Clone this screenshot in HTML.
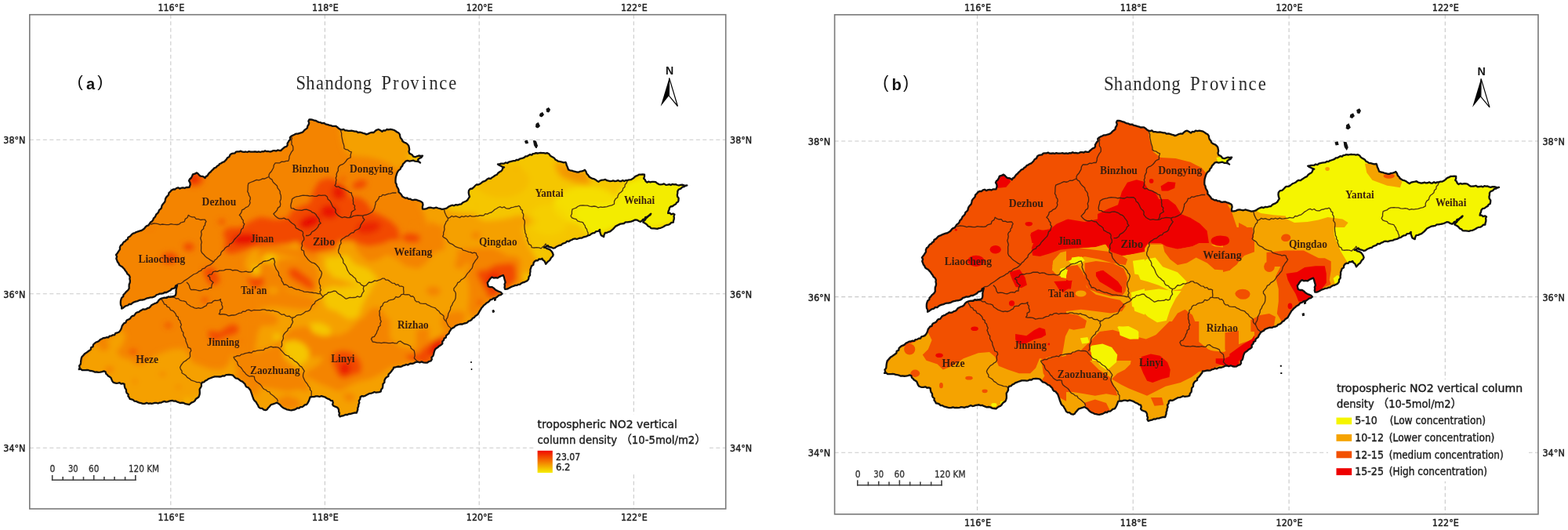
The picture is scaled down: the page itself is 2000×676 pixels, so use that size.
<!DOCTYPE html>
<html><head><meta charset="utf-8"><title>Shandong NO2</title>
<style>html,body{margin:0;padding:0;background:#fff;overflow:hidden} svg{display:block}</style>
</head><body>
<svg width="2000" height="676" viewBox="0 0 2000 676">
<defs>
  <path id="outline" d="M189.4,287.4 L190.7,285.4 L191.9,283.5 L194.0,282.2 L195.3,280.3 L195.9,278.3 L197.6,277.0 L198.5,275.2 L199.3,273.3 L201.0,272.0 L202.3,270.3 L202.9,268.1 L204.7,266.7 L206.0,265.0 L206.3,262.8 L207.3,260.9 L208.7,259.2 L210.2,257.5 L210.7,255.4 L211.1,253.3 L212.2,251.4 L213.7,249.9 L215.1,248.2 L215.4,246.0 L217.3,244.3 L219.0,242.4 L220.9,241.4 L223.3,241.5 L225.0,240.0 L227.1,239.3 L229.2,240.6 L231.4,239.7 L233.5,239.4 L235.6,240.0 L237.5,239.0 L239.5,239.0 L241.5,238.9 L242.7,235.3 L242.3,232.8 L241.0,230.6 L242.0,228.5 L243.8,227.0 L245.0,224.7 L246.0,222.3 L248.6,221.6 L251.0,220.4 L252.7,221.7 L254.1,223.3 L255.7,224.7 L257.9,224.8 L259.9,225.6 L261.6,227.0 L262.6,225.1 L264.6,224.1 L265.7,222.2 L267.0,220.5 L268.7,219.3 L270.0,217.6 L271.7,216.1 L273.3,214.4 L275.6,213.5 L277.0,211.7 L278.9,210.8 L280.1,209.0 L282.1,208.2 L283.8,207.0 L285.8,206.3 L287.3,204.9 L288.8,203.4 L290.1,201.2 L292.5,199.9 L293.5,197.5 L295.2,196.1 L297.2,195.7 L299.4,195.4 L300.9,193.7 L303.0,193.4 L305.1,193.4 L307.2,192.7 L309.2,193.7 L311.3,193.8 L313.4,193.5 L315.5,194.0 L317.5,193.1 L319.6,193.7 L321.7,193.6 L323.8,193.5 L325.8,193.3 L327.9,193.9 L330.0,193.4 L332.1,194.0 L334.1,193.2 L336.1,193.4 L338.1,192.3 L340.2,193.2 L342.2,193.0 L344.2,193.5 L346.3,193.1 L348.2,192.2 L350.3,192.2 L352.3,192.6 L354.3,191.4 L356.4,192.0 L358.4,192.0 L359.9,190.3 L361.6,188.9 L363.3,187.5 L365.5,186.8 L366.7,185.1 L366.6,182.8 L367.7,181.1 L368.7,179.3 L370.3,177.8 L369.9,175.4 L371.4,173.8 L373.3,172.7 L375.4,171.8 L377.3,170.7 L379.8,170.6 L382.2,169.8 L384.6,169.2 L386.8,167.9 L388.3,166.0 L390.2,164.6 L392.0,163.1 L392.3,160.9 L393.6,159.0 L394.2,156.9 L393.4,154.5 L394.4,152.5 L396.7,152.4 L398.9,152.9 L401.0,153.7 L403.0,154.0 L404.8,155.1 L406.7,155.9 L408.7,156.1 L410.5,157.2 L413.1,157.0 L415.3,158.3 L417.7,158.8 L420.0,159.6 L422.0,160.0 L424.0,160.9 L426.1,160.8 L428.2,160.8 L430.2,162.2 L432.0,163.8 L434.1,165.0 L436.1,165.5 L438.2,164.8 L440.1,166.4 L442.2,166.4 L444.2,166.8 L446.2,166.9 L448.3,166.7 L450.5,167.1 L452.6,167.6 L454.8,167.7 L456.7,169.0 L459.0,168.6 L461.1,169.2 L463.2,169.9 L465.3,170.4 L467.3,171.4 L469.6,170.6 L471.8,169.5 L474.2,168.8 L476.7,169.0 L478.4,167.2 L480.3,165.8 L482.7,165.0 L485.2,166.3 L487.4,167.9 L489.0,166.3 L491.6,166.5 L493.3,165.0 L495.7,165.4 L498.1,164.9 L500.5,165.4 L502.8,166.0 L504.7,167.2 L506.5,168.5 L508.5,169.6 L509.9,171.4 L510.3,173.8 L510.9,176.0 L512.6,177.8 L513.4,180.0 L515.4,181.5 L517.7,182.4 L519.7,183.9 L521.3,185.9 L521.8,188.3 L522.2,190.8 L521.5,193.3 L522.3,195.7 L524.3,196.6 L526.0,197.8 L527.2,199.7 L529.6,200.2 L531.9,199.3 L534.2,198.5 L536.6,199.0 L539.0,198.7 L537.5,200.9 L535.0,201.9 L533.1,203.6 L533.9,206.0 L536.0,207.5 L534.0,206.2 L531.7,205.8 L529.3,205.7 L527.2,204.6 L524.8,205.1 L522.4,205.6 L519.8,204.9 L517.4,205.6 L515.9,207.5 L514.1,209.2 L513.2,211.6 L511.5,213.4 L510.7,215.6 L508.7,217.1 L507.3,218.9 L506.3,221.0 L505.6,223.3 L504.9,225.7 L504.6,228.1 L504.5,230.6 L504.6,233.1 L505.7,234.9 L505.9,237.0 L506.8,238.9 L507.9,240.7 L508.6,242.7 L508.5,244.9 L510.4,246.6 L512.1,248.6 L513.4,250.8 L515.3,251.7 L517.2,252.7 L519.4,252.5 L521.1,253.8 L523.3,253.7 L525.1,254.9 L527.1,255.2 L529.2,254.7 L531.2,254.9 L533.1,255.7 L535.3,256.3 L537.3,257.3 L539.0,258.7 L539.5,261.3 L538.8,263.9 L539.0,266.5 L541.6,266.7 L544.0,266.1 L546.3,265.0 L548.8,264.6 L551.3,265.1 L553.7,265.5 L556.3,264.6 L558.7,265.5 L561.3,266.1 L563.8,266.8 L566.5,266.5 L568.7,265.9 L570.6,264.9 L572.4,263.5 L574.4,262.6 L576.7,261.7 L579.2,262.3 L581.4,261.1 L583.9,261.5 L586.2,260.6 L588.5,260.3 L590.1,258.5 L592.1,257.5 L594.1,256.7 L596.3,255.2 L597.6,253.0 L599.0,250.8 L598.1,248.2 L597.7,245.6 L598.0,242.9 L599.6,241.0 L602.3,240.5 L604.2,238.9 L605.9,237.0 L607.6,235.5 L610.1,235.5 L612.1,234.7 L613.9,233.3 L615.6,231.9 L617.7,231.1 L619.7,230.2 L621.4,228.6 L623.3,227.5 L625.9,227.8 L627.6,226.4 L629.5,225.2 L631.5,223.8 L633.8,222.8 L635.3,220.7 L637.3,219.3 L639.2,218.2 L640.5,216.7 L641.2,214.6 L643.0,213.4 L640.8,212.8 L638.9,211.7 L636.8,210.8 L635.0,209.5 L637.0,209.4 L639.0,208.7 L641.0,208.7 L643.0,208.6 L644.8,207.4 L647.2,208.0 L648.9,206.6 L651.0,206.1 L653.0,205.6 L655.0,205.2 L657.1,205.1 L658.9,203.8 L661.1,204.0 L662.9,202.7 L664.8,202.2 L666.8,201.6 L668.7,200.9 L670.3,199.4 L672.4,199.3 L674.1,198.2 L675.8,197.2 L678.2,197.7 L679.7,196.1 L681.7,195.8 L683.6,195.1 L685.6,195.5 L687.7,195.2 L689.7,194.8 L691.7,195.1 L693.7,195.2 L695.8,195.6 L697.8,195.1 L700.2,196.2 L701.7,198.3 L703.7,199.8 L705.6,200.7 L707.2,201.9 L708.4,203.7 L710.3,204.5 L712.0,205.7 L714.4,206.1 L716.7,206.7 L719.0,207.3 L721.5,206.9 L722.3,208.8 L722.7,210.8 L723.6,212.6 L724.3,214.5 L725.0,216.4 L727.1,217.3 L729.3,217.6 L731.4,218.3 L733.6,218.8 L735.7,219.5 L737.9,219.6 L739.9,218.7 L742.0,218.4 L744.0,217.9 L745.9,216.7 L747.5,219.0 L748.4,221.7 L750.0,223.2 L751.3,225.2 L753.1,226.5 L755.1,227.6 L757.4,228.1 L759.5,229.2 L761.4,230.7 L763.4,231.8 L765.4,230.3 L767.7,229.7 L770.1,229.3 L772.2,228.9 L774.1,230.2 L776.1,230.7 L778.1,231.2 L780.2,230.9 L782.2,230.3 L784.2,231.1 L786.2,230.9 L788.2,230.0 L790.2,231.1 L792.2,231.2 L794.2,229.9 L796.2,231.0 L798.2,230.0 L800.2,230.1 L802.3,229.3 L804.7,229.2 L806.7,228.1 L808.6,226.8 L810.5,224.9 L813.0,223.9 L815.3,222.6 L817.5,222.6 L819.8,222.3 L822.0,222.6 L822.0,225.2 L821.1,227.6 L822.7,229.1 L823.6,231.2 L825.3,232.6 L827.3,231.6 L829.5,232.3 L831.6,231.9 L833.7,231.8 L836.3,232.2 L838.3,233.8 L840.4,235.1 L842.6,235.3 L844.8,235.1 L847.0,234.4 L849.3,235.9 L851.5,235.6 L853.7,235.1 L855.7,236.0 L857.8,234.8 L859.8,235.3 L861.8,235.1 L863.8,236.0 L865.9,236.5 L868.0,235.8 L870.1,235.7 L872.1,236.2 L874.2,237.1 L876.3,236.5 L874.2,236.7 L872.6,238.2 L870.5,238.5 L868.3,240.6 L865.5,241.8 L864.3,243.9 L864.3,246.2 L863.8,248.5 L864.1,250.8 L865.6,252.8 L865.5,255.2 L865.0,257.3 L863.0,258.4 L862.1,260.2 L859.9,261.4 L857.9,263.0 L855.4,263.5 L853.9,265.3 L853.5,267.6 L852.5,269.6 L852.1,271.9 L854.3,271.7 L856.1,273.3 L858.5,272.5 L860.4,273.6 L859.5,275.5 L859.8,277.6 L859.7,279.6 L859.0,281.6 L858.8,283.6 L856.4,283.8 L854.7,285.6 L852.7,286.7 L850.4,287.0 L848.4,287.8 L846.6,289.0 L844.6,290.0 L842.6,290.8 L840.4,291.1 L838.4,291.8 L836.4,291.6 L834.3,291.4 L832.3,291.4 L830.3,291.1 L828.9,289.3 L826.7,288.5 L825.3,286.7 L823.6,285.3 L820.3,283.6 L821.3,281.7 L823.0,280.3 L824.0,278.4 L825.7,277.1 L826.9,275.3 L829.1,274.5 L830.3,272.7 L828.6,273.9 L827.3,275.6 L825.3,276.5 L823.2,277.2 L822.4,279.5 L820.0,279.9 L818.7,281.6 L817.0,282.8 L814.8,282.0 L812.7,280.6 L810.3,280.3 L807.0,281.9 L804.8,282.6 L802.5,283.0 L800.2,283.3 L797.8,283.4 L795.8,285.0 L793.5,285.3 L791.2,285.6 L789.2,286.6 L787.2,287.6 L785.2,288.6 L783.6,290.4 L782.0,292.1 L780.2,293.6 L778.4,295.1 L776.2,295.8 L774.2,296.8 L771.8,297.0 L770.6,299.4 L770.1,302.0 L766.8,300.3 L765.9,297.9 L765.1,295.4 L765.1,292.8 L763.2,294.8 L760.3,295.1 L758.4,297.0 L756.1,297.3 L754.1,298.4 L752.3,299.8 L750.1,300.3 L748.2,301.4 L746.2,302.0 L744.1,302.4 L742.2,303.5 L740.0,303.7 L737.9,304.2 L735.8,305.0 L733.4,304.4 L731.3,304.8 L729.3,306.0 L727.3,306.7 L725.5,308.0 L723.1,307.7 L721.5,309.5 L719.6,310.2 L717.5,310.8 L715.9,312.5 L713.7,312.9 L711.6,313.8 L709.6,314.7 L707.9,316.1 L705.7,316.7 L703.3,315.5 L700.6,315.0 L698.6,313.1 L696.4,314.6 L693.8,315.5 L696.0,315.9 L697.7,317.2 L699.8,317.7 L701.7,318.6 L703.3,320.2 L704.8,322.5 L705.7,325.0 L704.9,327.0 L703.2,328.5 L702.1,330.3 L701.0,332.1 L699.1,333.4 L697.6,335.1 L696.2,336.8 L695.3,334.8 L694.4,332.9 L692.5,331.6 L691.5,329.7 L689.7,330.7 L687.4,330.4 L686.0,332.4 L683.8,332.2 L682.0,333.3 L680.6,335.2 L680.3,337.8 L678.0,339.2 L677.3,341.5 L676.4,343.8 L676.5,346.2 L676.0,348.6 L676.1,351.0 L674.5,353.1 L674.2,356.0 L672.5,358.1 L670.6,359.0 L668.7,360.0 L666.6,360.4 L664.8,361.4 L663.1,362.8 L661.0,362.9 L659.1,363.9 L657.0,364.0 L655.1,364.9 L653.1,365.5 L651.2,366.4 L649.0,367.6 L646.7,368.7 L644.1,368.8 L643.5,366.7 L643.9,364.5 L643.5,362.4 L644.6,360.2 L644.1,358.1 L643.4,355.7 L642.8,353.3 L641.8,351.0 L639.3,352.0 L636.9,353.1 L634.7,354.6 L632.3,354.2 L629.8,354.6 L627.6,353.4 L625.8,354.9 L624.3,356.7 L623.2,358.7 L621.7,360.5 L622.2,362.9 L622.8,365.2 L625.1,366.2 L627.8,366.1 L630.0,367.6 L632.1,369.7 L634.7,371.1 L636.9,372.0 L639.0,372.9 L640.6,374.7 L638.8,376.2 L636.5,376.7 L634.7,378.2 L632.5,379.8 L629.8,380.3 L627.6,381.8 L625.4,382.3 L624.1,384.2 L622.4,385.5 L620.5,386.5 L618.9,388.1 L617.1,389.4 L615.7,391.2 L614.2,392.7 L613.2,394.6 L612.0,396.4 L611.0,398.3 L609.9,400.4 L608.3,401.9 L606.3,403.1 L605.0,404.9 L602.8,406.0 L601.5,407.8 L599.8,409.0 L597.7,409.6 L596.2,411.3 L594.3,412.2 L592.1,412.5 L589.8,413.5 L587.3,413.4 L584.9,414.0 L582.6,414.9 L580.7,415.8 L579.2,417.5 L577.3,418.4 L575.5,419.6 L574.4,421.4 L573.2,423.2 L572.5,425.3 L570.8,426.7 L569.1,428.1 L568.8,430.5 L566.6,431.6 L566.0,433.8 L564.2,435.5 L564.3,438.3 L562.5,440.0 L560.0,441.4 L558.6,442.9 L556.8,444.0 L555.2,445.3 L554.3,447.3 L553.6,449.5 L553.1,451.8 L552.4,454.0 L550.5,455.8 L550.8,458.4 L549.6,460.4 L547.2,461.0 L545.0,462.5 L542.5,462.7 L540.1,462.4 L537.8,461.4 L535.3,462.4 L533.0,461.5 L530.5,461.8 L528.3,463.1 L525.9,463.9 L523.8,463.7 L521.9,464.4 L520.1,465.5 L517.9,464.9 L516.1,465.9 L514.1,466.3 L512.3,467.4 L510.3,467.8 L508.2,467.5 L506.2,467.9 L504.2,468.5 L502.2,468.6 L501.5,470.7 L500.1,472.3 L498.9,474.1 L497.5,475.7 L495.6,477.3 L495.3,480.0 L492.9,481.2 L491.4,483.0 L490.4,485.2 L490.4,487.7 L488.5,489.8 L488.3,492.2 L488.0,494.7 L486.3,496.8 L485.7,499.4 L483.7,500.1 L481.7,500.3 L479.6,500.6 L477.5,500.0 L475.5,501.0 L473.6,501.7 L471.5,501.8 L469.6,502.7 L467.7,503.7 L465.8,504.8 L463.8,505.5 L461.4,505.2 L459.6,506.5 L459.4,509.0 L457.8,511.1 L458.3,513.7 L457.3,516.0 L457.2,518.2 L456.3,520.2 L456.3,522.5 L455.6,524.5 L454.9,526.6 L452.8,526.3 L450.8,526.8 L448.9,527.3 L447.0,528.0 L444.9,528.0 L443.1,529.0 L440.6,528.9 L438.3,530.1 L435.9,530.5 L433.6,531.4 L432.4,529.4 L433.0,527.0 L432.1,525.0 L432.1,522.8 L431.2,520.7 L429.6,519.3 L427.5,518.6 L425.5,517.8 L424.1,516.0 L424.8,513.6 L424.1,511.2 L422.0,510.8 L420.3,509.4 L418.3,508.6 L416.4,507.7 L414.7,506.5 L412.4,505.8 L410.0,505.1 L407.5,506.0 L405.2,505.3 L402.8,505.4 L400.5,506.2 L398.1,506.1 L395.7,506.5 L394.9,508.5 L394.3,510.5 L393.4,512.4 L392.4,514.3 L391.0,516.0 L388.8,516.4 L387.2,517.9 L385.5,519.2 L383.1,519.2 L381.5,520.7 L379.4,520.3 L377.6,521.6 L375.7,522.5 L373.7,522.8 L371.8,523.3 L369.7,523.1 L367.7,522.6 L365.7,522.3 L363.9,521.3 L362.0,520.6 L360.2,519.5 L358.5,517.9 L357.0,516.1 L355.1,514.8 L353.1,513.6 L350.8,514.5 L348.4,515.3 L346.0,516.0 L344.6,517.4 L343.3,519.0 L341.9,520.4 L340.8,522.2 L338.9,523.1 L336.4,522.6 L334.4,520.8 L331.8,520.7 L329.9,519.2 L329.0,516.9 L327.7,514.9 L326.6,512.8 L324.7,511.2 L323.5,509.4 L322.8,507.4 L322.0,505.4 L321.4,503.4 L320.7,501.4 L320.0,499.4 L319.3,497.4 L317.9,495.9 L316.7,494.3 L314.4,493.5 L313.2,491.9 L312.5,489.9 L310.8,488.2 L309.1,486.6 L306.8,485.7 L305.0,484.1 L303.0,482.8 L300.5,482.3 L298.8,480.6 L297.1,478.7 L294.7,478.1 L292.5,477.8 L290.4,478.0 L288.3,478.1 L286.3,479.5 L284.1,479.3 L282.2,480.3 L280.1,480.5 L278.0,480.3 L275.9,480.4 L273.8,480.3 L271.9,481.0 L269.9,481.7 L267.8,482.5 L265.7,483.3 L264.0,484.7 L261.9,485.6 L260.3,487.3 L258.0,487.6 L256.8,489.8 L256.9,492.5 L255.7,494.7 L254.6,496.5 L254.7,498.6 L254.8,500.7 L254.7,502.7 L254.1,504.6 L253.3,506.5 L251.5,507.7 L249.7,509.0 L248.6,511.1 L247.0,512.5 L244.8,513.3 L243.1,514.5 L241.5,516.0 L239.1,515.6 L236.6,515.2 L234.4,514.0 L232.0,513.6 L229.8,514.0 L227.9,513.2 L225.9,512.6 L224.0,511.5 L221.9,511.7 L219.9,510.9 L217.8,511.2 L215.8,511.6 L213.8,512.3 L211.8,512.6 L209.6,511.8 L207.6,512.6 L205.7,513.6 L203.6,513.6 L201.6,514.5 L199.5,513.9 L197.5,513.8 L195.5,514.4 L193.5,514.8 L191.4,514.4 L189.4,514.8 L187.1,513.9 L184.6,514.8 L182.2,514.8 L179.9,514.1 L177.6,513.6 L175.6,512.9 L173.7,511.8 L171.5,511.7 L169.8,510.0 L167.8,509.3 L165.7,508.9 L164.8,507.0 L163.4,505.3 L163.6,502.9 L161.7,501.4 L161.0,499.4 L160.9,496.9 L159.4,494.8 L158.8,492.4 L158.6,489.9 L156.6,489.2 L154.5,489.6 L152.6,488.2 L150.5,488.6 L148.4,488.8 L146.4,488.4 L144.4,487.6 L143.1,485.9 L142.3,483.9 L141.5,481.9 L139.7,480.5 L137.9,479.5 L136.7,477.8 L135.1,476.6 L134.6,474.3 L132.6,473.4 L130.3,474.2 L128.0,474.6 L125.6,474.8 L123.2,474.5 L120.8,474.6 L118.9,473.6 L117.0,473.2 L114.9,473.0 L113.0,472.2 L111.0,471.9 L108.9,472.2 L106.8,472.2 L104.7,472.1 L102.9,470.6 L100.7,471.0 L101.7,469.0 L101.1,466.6 L102.7,464.8 L103.0,462.7 L103.2,460.3 L103.6,457.9 L104.2,455.6 L105.6,454.0 L107.0,452.4 L108.4,450.9 L110.3,449.8 L112.0,448.5 L113.7,447.3 L115.7,445.9 L116.1,443.2 L118.6,442.1 L119.0,439.5 L120.8,437.9 L122.4,436.5 L124.6,435.9 L126.4,434.7 L127.9,433.1 L129.9,432.3 L131.7,431.1 L133.9,431.0 L135.9,430.2 L138.2,430.4 L139.8,428.6 L142.0,428.4 L143.8,427.3 L146.1,427.1 L147.4,424.9 L149.5,424.5 L151.5,423.7 L153.1,422.0 L154.3,420.0 L155.1,417.8 L155.7,415.7 L156.9,414.0 L158.1,412.4 L160.4,411.5 L161.0,409.5 L162.3,408.0 L164.4,407.3 L166.1,406.3 L167.2,404.3 L168.7,403.0 L170.9,402.6 L172.2,400.9 L173.4,399.2 L175.2,398.3 L177.2,397.8 L178.8,396.5 L180.6,395.6 L182.3,394.4 L184.6,394.7 L186.5,394.2 L188.2,393.0 L190.2,392.6 L191.8,391.2 L193.1,389.3 L195.1,388.2 L197.1,387.2 L199.3,386.5 L201.1,385.2 L202.3,383.1 L204.0,381.6 L206.0,380.6 L208.2,380.0 L210.4,379.7 L212.7,379.9 L214.7,378.3 L217.1,378.8 L219.3,378.3 L221.5,378.0 L223.6,377.0 L224.4,374.9 L224.6,372.7 L224.5,370.4 L224.9,368.3 L225.4,366.1 L226.0,364.0 L224.1,364.8 L223.1,366.9 L221.4,367.9 L219.2,368.4 L217.8,369.9 L216.0,371.1 L214.1,372.1 L212.2,373.0 L209.9,373.0 L208.1,374.2 L206.0,374.7 L203.7,374.6 L201.8,375.5 L199.7,376.0 L198.0,377.7 L196.1,378.7 L194.0,379.3 L191.8,379.4 L189.7,380.0 L187.6,380.3 L185.6,381.2 L183.6,382.2 L181.5,382.5 L179.3,382.7 L177.2,383.2 L175.2,384.1 L173.0,384.6 L170.9,385.3 L169.0,386.4 L167.3,388.0 L164.8,387.8 L163.2,389.5 L161.0,390.0 L159.0,391.1 L157.2,392.6 L155.1,393.6 L155.2,391.2 L154.0,388.9 L153.8,386.5 L153.9,384.1 L154.4,381.9 L155.2,379.8 L157.2,378.2 L157.5,375.9 L159.1,374.5 L160.3,372.8 L161.8,371.4 L163.4,370.0 L164.7,367.8 L164.6,365.3 L164.7,362.8 L165.7,360.5 L165.9,358.1 L165.4,355.7 L165.7,353.3 L164.6,351.0 L162.5,349.4 L161.4,347.1 L159.8,345.1 L158.7,343.3 L157.2,341.8 L155.8,340.2 L153.9,339.2 L152.1,337.8 L151.3,335.8 L149.9,334.1 L149.2,332.0 L148.3,329.8 L149.1,327.2 L148.0,325.0 L149.9,322.7 L151.5,320.2 L153.0,318.1 L152.9,315.4 L153.9,313.1 L155.7,312.1 L156.7,310.2 L157.9,308.6 L159.9,307.7 L161.0,306.0 L162.9,305.1 L163.4,302.7 L165.4,301.8 L166.8,300.5 L168.1,298.9 L169.9,297.7 L172.0,297.1 L173.8,296.0 L175.9,295.3 L177.9,294.6 L180.0,294.2 L182.0,293.0 L183.9,291.7 L185.4,289.7 L187.1,288.1 Z"/>
  <clipPath id="clipA"><use href="#outline"/></clipPath>
  <clipPath id="clipB"><use href="#outline" transform="matrix(1.0107 0 0 1.0107 1026.37 -0.107)"/></clipPath>
  <filter id="bl6" x="-50%" y="-50%" width="200%" height="200%"><feGaussianBlur stdDeviation="6"/></filter>
  <filter id="bl10" x="-50%" y="-50%" width="200%" height="200%"><feGaussianBlur stdDeviation="10"/></filter>
  <filter id="bl3" x="-50%" y="-50%" width="200%" height="200%"><feGaussianBlur stdDeviation="3"/></filter>
  <linearGradient id="lgA" x1="0" y1="0" x2="0" y2="1">
    <stop offset="0" stop-color="#f00a00"/><stop offset="0.5" stop-color="#f47a00"/><stop offset="1" stop-color="#f5ee00"/>
  </linearGradient>
  <filter id="blA" x="-10%" y="-10%" width="120%" height="120%"><feGaussianBlur stdDeviation="3.5"/></filter>
  <g id="fg0"><polygon points="1600.0,200.0 1700.0,170.0 1800.0,180.0 1950.0,210.0 1950.0,330.0 1840.0,335.0 1780.0,345.0 1720.0,345.0 1700.0,300.0 1640.0,292.0 1600.0,287.0"/></g>
<g id="fg1"><polygon points="1463.9,159.5 1546.7,159.5 1565.7,197.3 1551.5,206.8 1538.5,221.0 1532.5,213.9 1518.3,206.8 1499.4,202.1 1480.5,200.9 1471.0,193.8 1466.3,178.4"/><polygon points="1565.7,261.2 1640.0,261.2 1640.0,310.0 1582.2,310.0 1579.9,296.7 1575.1,282.5 1570.4,268.3"/><polygon points="1360.0,311.8 1600.0,311.8 1600.0,460.0 1360.0,460.0"/><polygon points="1340.0,410.0 1580.0,410.0 1580.0,570.0 1340.0,570.0"/><polygon points="1560.0,290.0 1760.0,290.0 1760.0,422.9 1560.0,422.9"/><polygon points="1120.0,570.0 1120.0,481.0 1129.5,466.8 1143.7,445.5 1167.3,436.0 1183.9,424.2 1188.6,433.7 1183.9,445.5 1176.8,452.6 1181.5,459.7 1195.7,464.4 1202.8,471.5 1214.7,466.8 1228.9,457.3 1247.8,450.2 1262.0,449.1 1269.1,455.0 1273.8,466.8 1285.7,471.5 1299.9,476.3 1314.1,476.3 1321.2,469.2 1325.9,457.3 1337.8,457.3 1340.1,471.5 1333.0,478.6 1328.3,485.7 1360.0,509.4 1360.0,570.0"/><polygon points="1341.9,344.7 1343.1,332.8 1352.5,322.2 1366.7,318.6 1385.7,317.5 1399.9,319.1 1414.1,322.2 1421.2,325.3 1425.9,337.6 1423.6,347.0 1414.1,344.7 1399.9,342.3 1385.7,339.9 1380.9,332.8 1371.5,335.2 1359.6,347.0 1350.2,351.8"/><polygon points="1428.3,325.7 1447.2,323.4 1460.0,321.0 1460.0,410.0 1373.8,410.0 1380.9,396.7 1399.9,392.0 1421.2,394.4 1433.0,387.3 1437.8,373.1 1435.4,356.5 1430.7,342.3"/><polygon points="1342.5,338.4 1347.2,328.9 1360.0,324.2 1360.0,355.0 1352.0,352.6 1344.9,347.9"/><polygon points="1321.2,470.0 1325.9,459.1 1337.8,455.6 1360.0,452.0 1360.0,470.0"/><polygon points="1580.0,265.2 1603.7,268.8 1620.2,271.1 1636.8,273.5 1641.5,279.4 1651.0,284.1 1667.6,283.0 1681.8,280.6 1693.6,277.0 1703.1,278.2 1712.5,279.4 1719.6,284.1 1714.9,290.1 1705.4,291.2 1707.8,307.8 1712.5,319.6 1712.5,340.0 1580.0,340.0"/><polygon points="1740.9,208.4 1755.1,209.6 1764.6,217.9 1781.2,220.2 1788.3,232.1 1785.9,239.2 1769.3,236.8 1750.4,229.7 1743.3,220.2"/><ellipse cx="1693.1" cy="215.5" rx="2.8" ry="2.4"/><ellipse cx="1636.8" cy="260.9" rx="2.4" ry="1.9"/></g>
<g id="fg2"><polygon points="1360.0,314.2 1416.8,321.3 1431.0,326.0 1438.1,330.8 1435.7,337.9 1419.2,335.5 1402.6,330.8 1383.7,327.2 1369.5,330.8 1360.0,333.1"/><polygon points="1383.7,335.5 1397.9,333.1 1419.2,335.5 1433.4,342.6 1438.1,354.4 1435.7,371.0 1431.0,378.1 1416.8,378.1 1400.2,373.4 1388.4,368.6 1381.3,356.8 1383.7,345.0"/><polygon points="1360.0,340.2 1374.2,337.9 1381.3,347.3 1386.0,366.3 1397.9,375.7 1416.8,380.5 1428.6,382.8 1435.7,389.9 1431.0,397.0 1416.8,399.4 1397.9,397.0 1378.9,394.7 1360.0,397.0"/><polygon points="1483.1,311.8 1502.0,317.8 1520.9,314.2 1535.1,307.1 1549.3,314.2 1568.3,316.6 1587.2,309.5 1600.0,307.1 1600.0,321.3 1587.2,326.0 1577.8,335.5 1568.3,345.0 1549.3,343.8 1539.9,335.5 1525.7,328.4 1513.8,335.5 1502.0,337.9 1492.5,330.8 1485.4,321.3"/><ellipse cx="1584.9" cy="374.6" rx="9.5" ry="5.9"/><polygon points="1402.6,423.1 1419.2,420.7 1442.8,427.8 1461.8,432.5 1478.3,425.4 1492.5,413.6 1502.0,399.4 1511.5,394.7 1520.9,401.8 1525.7,413.6 1523.3,427.8 1525.7,442.0 1539.9,446.7 1561.2,449.1 1573.0,442.0 1584.9,437.3 1600.0,432.5 1600.0,460.0 1360.0,460.0 1360.0,451.5 1378.9,446.7 1388.4,437.3 1397.9,427.8"/><polygon points="1360.0,399.4 1374.2,401.8 1386.0,408.9 1383.7,418.3 1369.5,420.7 1360.0,418.3"/><polygon points="1560.0,290.0 1597.4,290.0 1599.3,301.8 1595.4,313.6 1585.6,325.4 1577.7,337.2 1567.9,345.1 1560.0,347.0"/><ellipse cx="1639.6" cy="303.8" rx="5.5" ry="4.3"/><ellipse cx="1585.6" cy="375.5" rx="8.8" ry="6.3"/><ellipse cx="1619.0" cy="340.1" rx="6.9" ry="6.9"/><polygon points="1626.9,352.9 1634.7,337.2 1644.6,331.3 1650.5,321.5 1662.3,325.4 1674.1,329.3 1689.8,329.3 1697.7,333.3 1697.7,345.1 1695.7,356.9 1697.7,362.8 1687.8,366.7 1678.0,372.6 1670.1,376.5 1664.2,382.4 1654.4,390.3 1646.5,398.2 1642.6,406.0 1634.7,410.0 1628.8,400.1 1630.8,384.4 1630.8,368.7"/><polygon points="1595.4,408.0 1607.2,402.1 1619.0,400.1 1626.9,404.1 1624.9,415.9 1615.1,422.9 1595.4,422.9"/><ellipse cx="1640.4" cy="303.1" rx="5.9" ry="4.7"/><polygon points="1580.0,284.1 1589.5,288.9 1596.6,298.3 1598.9,312.5 1594.2,322.0 1580.0,324.4"/><polygon points="1615.5,322.0 1639.2,319.6 1662.8,319.6 1686.5,331.5 1691.2,340.0 1615.5,340.0"/><ellipse cx="1771.7" cy="224.5" rx="7.1" ry="3.3"/></g>
<g id="fg3"><ellipse cx="1378.6" cy="374.4" rx="7.0" ry="4.0"/></g>
<g id="fg4"><ellipse cx="1160.2" cy="445.5" rx="7.1" ry="7.1"/><ellipse cx="1167.3" cy="476.3" rx="5.9" ry="4.7"/><ellipse cx="1236.0" cy="482.2" rx="4.7" ry="2.4"/><ellipse cx="1200.5" cy="491.7" rx="2.4" ry="3.6"/><ellipse cx="1256.1" cy="498.8" rx="3.6" ry="2.4"/><polygon points="1328.3,457.3 1360.0,455.0 1360.0,511.8 1347.2,504.7 1337.8,488.1 1330.7,476.3"/><polygon points="1340.0,410.0 1361.3,410.0 1363.7,419.5 1358.9,428.9 1356.6,443.1 1354.2,455.0 1340.0,457.3"/><polygon points="1408.6,421.8 1429.9,431.3 1448.9,438.4 1463.1,436.0 1472.5,428.9 1482.0,419.5 1491.5,410.0 1529.3,410.0 1529.3,436.0 1541.2,445.5 1553.0,450.2 1562.5,457.3 1560.1,464.4 1543.6,471.5 1529.3,473.9 1519.9,481.0 1505.7,488.1 1486.7,492.8 1472.5,499.9 1463.1,504.7 1451.2,499.9 1439.4,495.2 1429.9,490.5 1418.1,483.4 1425.2,476.3 1434.7,471.5 1441.8,464.4 1444.1,452.6 1434.7,445.5 1420.5,438.4 1411.0,433.7"/><polygon points="1340.0,457.3 1354.2,455.0 1375.5,450.2 1387.3,457.3 1401.5,471.5 1415.7,481.0 1422.8,495.2 1425.2,504.7 1411.0,502.3 1396.8,504.7 1382.6,502.3 1368.4,499.9 1354.2,499.9 1340.0,495.2"/><polygon points="1467.8,507.0 1482.0,507.0 1484.4,516.5 1472.5,517.7"/><polygon points="1562.5,424.2 1580.0,421.8 1580.0,457.3 1567.2,457.3 1562.5,445.5"/><polygon points="1382.6,514.1 1396.8,509.4 1411.0,514.1 1415.7,523.6 1401.5,528.3 1387.3,526.0"/></g>
<g id="fg5"><polygon points="1449.9,345.0 1461.8,330.8 1473.6,328.4 1483.1,340.2 1502.0,347.3 1513.8,359.2 1506.7,368.6 1492.5,371.0 1478.3,363.9 1464.1,359.2 1454.7,356.8"/><polygon points="1442.8,378.1 1459.4,371.0 1478.3,368.6 1497.3,371.0 1506.7,371.0 1499.6,380.5 1492.5,394.7 1487.8,408.9 1476.0,411.2 1464.1,404.1 1454.7,394.7 1444.0,391.1"/><polygon points="1426.3,416.0 1440.5,418.3 1452.3,423.1 1452.3,432.5 1440.5,432.5 1428.6,427.8"/><polygon points="1390.8,442.0 1407.3,439.6 1419.2,446.7 1421.5,460.0 1393.1,460.0"/><polygon points="1367.1,328.4 1376.6,327.2 1380.1,333.1 1371.8,337.9 1365.9,335.5"/><polygon points="1601.2,261.2 1640.0,237.6 1640.0,275.4 1624.9,274.3 1608.3,271.9 1601.2,268.3"/><polygon points="1551.5,200.9 1570.4,198.5 1572.8,204.4 1565.7,211.5 1553.8,208.0"/><polygon points="1701.6,290.0 1760.0,290.0 1760.0,313.6 1737.0,319.5 1740.9,329.3 1733.1,341.1 1721.3,339.2 1715.4,329.3 1709.5,319.5 1705.5,309.7 1701.6,299.8"/><polygon points="1700.6,354.9 1705.5,351.0 1711.4,352.9 1711.4,362.8 1703.6,364.7"/><polygon points="1351.4,352.2 1355.4,345.1 1362.0,343.7 1360.1,351.3"/><polygon points="1363.2,333.3 1371.5,328.1 1379.8,327.6 1383.8,332.4 1376.7,336.6 1367.9,337.6"/><polygon points="1444.9,332.8 1460.0,330.5 1460.0,351.8 1447.2,349.4"/><polygon points="1442.5,373.1 1460.0,368.3 1460.0,401.5 1447.2,396.7"/><polygon points="1352.0,343.1 1360.0,340.8 1360.0,355.0 1353.1,353.8"/><ellipse cx="1267.9" cy="516.5" rx="3.6" ry="2.4"/><ellipse cx="1278.6" cy="513.4" rx="2.8" ry="1.9"/><polygon points="1392.1,440.8 1406.3,438.4 1418.1,443.1 1425.2,452.6 1424.0,462.1 1415.7,469.2 1411.0,471.5 1403.9,466.8 1396.8,457.3 1390.9,447.9"/><polygon points="1425.2,417.1 1439.4,415.9 1451.2,421.8 1452.4,431.3 1441.8,432.5 1429.9,426.6"/><polygon points="1377.9,431.3 1387.3,430.1 1389.7,437.2 1380.2,438.4"/></g>
<g id="fg6"><polygon points="1267.9,228.1 1277.4,221.0 1285.7,224.6 1289.2,231.7 1283.3,238.8 1271.5,239.9"/><ellipse cx="1312.2" cy="286.1" rx="4.0" ry="2.4"/><ellipse cx="1219.4" cy="293.2" rx="1.4" ry="1.4"/><polygon points="1314.1,299.1 1325.9,294.4 1340.1,292.0 1352.0,284.9 1360.0,280.2 1360.0,310.0 1316.4,310.0"/><polygon points="1314.7,297.3 1324.1,292.6 1336.0,295.0 1347.8,285.5 1362.0,279.6 1383.3,283.1 1399.9,279.6 1411.7,273.7 1421.2,266.6 1433.0,257.1 1444.9,252.4 1460.0,250.0 1460.0,321.0 1447.2,323.4 1433.0,325.7 1423.6,321.0 1416.4,313.9 1409.3,311.5 1397.5,315.1 1373.8,316.3 1352.5,318.6 1338.3,323.4 1326.5,326.9 1317.0,325.7 1315.9,316.3 1319.4,306.8"/><ellipse cx="1269.7" cy="318.2" rx="7.1" ry="5.2"/><ellipse cx="1244.9" cy="332.8" rx="10.7" ry="7.1"/><ellipse cx="1312.3" cy="285.5" rx="4.7" ry="2.4"/><polygon points="1287.5,347.0 1300.5,343.5 1307.6,354.1 1309.9,363.6 1302.8,367.2 1295.7,366.0 1291.0,356.5"/><polygon points="1344.3,358.9 1367.9,357.7 1362.0,368.3 1356.1,373.1 1350.2,368.3"/><ellipse cx="1290.5" cy="386.8" rx="3.6" ry="3.6"/><polygon points="1399.9,347.0 1407.0,344.7 1416.4,351.8 1425.9,358.9 1430.7,366.0 1428.3,370.7 1421.2,369.5 1411.7,361.2 1402.2,354.1"/><polygon points="1400.0,273.1 1414.2,266.0 1426.0,261.2 1430.8,244.7 1437.9,232.8 1449.7,229.3 1459.2,231.7 1463.9,241.1 1473.4,244.7 1478.1,254.1 1489.9,254.1 1499.4,261.2 1506.5,273.1 1518.3,277.8 1530.2,284.9 1539.6,294.4 1542.0,310.0 1400.0,310.0"/><ellipse cx="1468.6" cy="230.9" rx="2.8" ry="2.8"/><polygon points="1480.5,237.6 1489.9,231.7 1499.4,232.8 1498.2,239.9 1489.9,243.5 1481.7,243.5"/><polygon points="1360.0,300.0 1539.9,300.0 1535.1,307.1 1520.9,314.2 1502.0,317.8 1487.8,314.2 1473.6,305.9 1464.1,310.7 1459.4,317.8 1445.2,323.7 1431.0,326.0 1416.8,321.3 1409.7,310.7 1402.6,313.0 1388.4,315.4 1374.2,316.6 1360.0,314.2"/><ellipse cx="1556.4" cy="307.1" rx="11.8" ry="6.6"/><polygon points="1397.9,347.3 1405.0,345.0 1414.4,352.1 1423.9,359.2 1431.0,366.3 1431.0,373.4 1423.9,372.2 1414.4,366.3 1402.6,359.2 1397.9,352.1"/><polygon points="1360.0,356.8 1367.1,359.2 1365.9,368.6 1360.0,368.6"/><polygon points="1568.3,451.5 1584.9,439.6 1596.7,432.5 1600.0,427.8 1600.0,460.0 1568.3,460.0"/><polygon points="1640.6,349.0 1654.4,347.0 1664.2,341.1 1678.0,339.2 1689.8,339.2 1691.8,349.0 1691.8,360.8 1685.9,368.7 1678.0,372.6 1674.1,376.5 1670.1,380.5 1664.2,384.4 1656.4,384.4 1652.4,374.6 1646.5,364.7 1642.6,356.9"/><ellipse cx="1645.5" cy="390.3" rx="2.9" ry="3.9"/><ellipse cx="1562.9" cy="306.7" rx="4.9" ry="5.5"/><ellipse cx="1243.1" cy="419.3" rx="4.7" ry="2.8"/><polygon points="1295.1,426.0 1309.3,428.3 1318.8,421.2 1325.9,417.7 1333.0,420.1 1334.2,427.2 1328.3,430.7 1318.8,433.1 1309.3,437.8 1299.9,439.0 1295.1,433.1"/><ellipse cx="1337.8" cy="439.0" rx="1.4" ry="1.4"/><ellipse cx="1198.1" cy="453.2" rx="4.7" ry="2.8"/><polygon points="1456.0,455.0 1467.8,451.4 1479.6,453.8 1489.1,462.1 1492.7,471.5 1491.5,481.0 1482.0,483.4 1470.2,488.1 1463.1,485.7 1458.3,476.3 1453.6,464.4"/><polygon points="1550.7,457.3 1562.5,457.3 1572.0,452.6 1576.7,447.9 1580.0,445.5 1580.0,471.5 1567.2,468.0 1557.8,465.6 1550.7,463.3"/></g>
  
<g id="common">
  <g stroke="#c4c4c4" stroke-width="1.1" stroke-dasharray="5 3.5" fill="none" opacity="0.9"><line x1="217.8" y1="18.7" x2="217.8" y2="649.0"/>
<line x1="414.4" y1="18.7" x2="414.4" y2="649.0"/>
<line x1="611.2" y1="18.7" x2="611.2" y2="649.0"/>
<line x1="808.3" y1="18.7" x2="808.3" y2="649.0"/>
<line x1="37.8" y1="178.2" x2="925.7" y2="178.2"/>
<line x1="37.8" y1="374.7" x2="925.7" y2="374.7"/>
<line x1="37.8" y1="571.2" x2="925.7" y2="571.2"/></g>
  <rect x="37.8" y="18.7" width="887.9" height="630.3" fill="none" stroke="#7a7a7a" stroke-width="1.6"/>
  <g font-family="DejaVu Sans Condensed, DejaVu Sans, sans-serif" font-size="13" fill="#1e1e1e" stroke="#1e1e1e" stroke-width="0.45"><text x="218.3" y="14.2" text-anchor="middle" textLength="33.7" lengthAdjust="spacingAndGlyphs">116°E</text>
<text x="218.3" y="663.7" text-anchor="middle" textLength="33.7" lengthAdjust="spacingAndGlyphs">116°E</text>
<text x="414.9" y="14.2" text-anchor="middle" textLength="33.7" lengthAdjust="spacingAndGlyphs">118°E</text>
<text x="414.9" y="663.7" text-anchor="middle" textLength="33.7" lengthAdjust="spacingAndGlyphs">118°E</text>
<text x="611.7" y="14.2" text-anchor="middle" textLength="33.7" lengthAdjust="spacingAndGlyphs">120°E</text>
<text x="611.7" y="663.7" text-anchor="middle" textLength="33.7" lengthAdjust="spacingAndGlyphs">120°E</text>
<text x="808.8" y="14.2" text-anchor="middle" textLength="33.7" lengthAdjust="spacingAndGlyphs">122°E</text>
<text x="808.8" y="663.7" text-anchor="middle" textLength="33.7" lengthAdjust="spacingAndGlyphs">122°E</text>
<text x="4.3" y="183.3" textLength="28.1" lengthAdjust="spacingAndGlyphs">38°N</text>
<text x="931.1" y="183.2" textLength="28.1" lengthAdjust="spacingAndGlyphs">38°N</text>
<text x="4.3" y="379.8" textLength="28.1" lengthAdjust="spacingAndGlyphs">36°N</text>
<text x="931.1" y="379.7" textLength="28.1" lengthAdjust="spacingAndGlyphs">36°N</text>
<text x="4.3" y="576.3" textLength="28.1" lengthAdjust="spacingAndGlyphs">34°N</text>
<text x="931.1" y="576.2" textLength="28.1" lengthAdjust="spacingAndGlyphs">34°N</text></g>
</g>
<g id="mapfg">
  <g fill="none" stroke="#3a2012" stroke-width="1.3" stroke-linejoin="round" opacity="0.9"><path d="M192.0,286.0 L196.3,285.0 L199.0,285.2 L201.7,285.7 L204.4,286.6 L207.2,286.0 L209.9,286.3 L212.6,286.6 L215.3,286.6 L218.0,285.7 L220.7,286.2 L223.4,286.3 L226.1,286.5 L228.8,285.8 L230.6,284.0 L233.0,283.3 L235.3,282.6 L236.2,279.4 L239.1,277.5 L240.2,274.4 L242.5,276.0 L245.1,276.9 L248.1,276.8 L250.2,279.4 L253.2,279.3 L255.8,280.5 L258.6,280.1 L261.4,280.1 L263.0,282.6 L261.7,284.7 L261.5,287.2 L259.8,289.1 L259.6,291.7 L257.5,293.4 L256.5,295.6 L257.1,298.4 L256.6,301.1 L255.7,303.7 L256.5,306.3 L257.2,309.0 L256.5,311.8 L256.6,314.5 L256.6,317.3 L256.5,320.0 L257.6,322.6 L259.7,324.4 L261.4,326.5 L263.4,328.4 L265.7,329.8 L267.9,331.4 L270.2,332.9 L272.8,333.8"/>
<path d="M272.8,333.8 L270.4,335.9 L267.9,337.9 L265.3,338.8 L262.9,340.1 L260.9,342.2 L258.1,342.8 L256.5,345.1 L253.9,346.1 L251.9,347.8 L249.5,349.0 L246.8,350.0 L244.5,351.7 L242.3,353.3 L240.0,355.0 L237.6,356.6 L235.1,358.1 L233.0,360.0 L230.3,361.7 L227.1,362.0 L225.1,363.4 L223.0,364.5"/>
<path d="M272.8,333.8 L274.1,331.6 L276.3,330.2 L277.7,328.1 L279.6,326.4 L281.5,324.7 L282.1,321.9 L283.8,320.0 L285.8,318.4 L287.2,316.2 L289.2,314.7 L291.8,313.9 L292.9,311.3 L295.3,310.3 L297.2,308.6 L298.4,306.2 L300.1,304.3 L302.0,302.4 L303.7,300.5 L305.9,298.4 L307.1,295.7 L307.8,292.6 L310.2,290.7 L310.6,288.1 L311.8,285.8 L310.1,283.9 L310.3,281.1 L308.6,279.3 L307.5,276.5 L305.3,274.4 L306.9,272.5 L308.1,270.4 L308.6,267.9 L311.3,266.7 L313.5,264.6 L316.4,263.5 L318.1,261.0 L319.1,258.7 L318.4,256.2 L319.3,253.9 L319.1,251.3 L317.5,249.2 L317.1,246.6 L315.7,244.4 L316.1,241.8 L316.2,239.1 L316.3,236.4 L316.9,233.8 L319.8,232.5 L322.8,231.4 L325.1,230.3 L327.3,229.3 L330.1,229.9 L332.5,229.2 L334.7,227.9 L337.7,228.0 L340.3,226.7 L343.0,225.5"/>
<path d="M371.4,174.0 L372.5,176.4 L371.7,179.1 L372.1,181.5 L371.9,184.1 L373.6,186.4 L373.9,188.9 L373.8,191.5 L371.8,193.9 L370.3,196.7 L369.0,199.5 L368.8,202.5 L367.8,205.4 L365.0,205.4 L362.3,206.4 L359.4,206.1 L356.8,207.8 L354.0,207.9 L351.2,207.8 L349.3,210.5 L348.9,213.7 L347.5,216.2 L346.1,218.7 L344.1,220.8 L343.0,223.0 L343.0,225.5 L344.4,227.6 L346.8,228.8 L347.8,231.3 L349.3,233.3 L351.2,235.0 L353.4,237.0 L354.1,239.9 L356.0,242.1 L357.2,244.3 L357.2,246.8 L358.2,249.0 L358.4,251.4 L358.3,253.9 L357.0,257.0 L357.8,260.3 L357.2,263.4 L354.5,265.1 L353.3,268.2 L351.2,270.5 L348.9,272.8 L351.1,275.4 L353.6,277.6 L356.3,278.8 L359.2,278.9 L362.2,278.2 L364.9,279.6 L367.8,279.9 L370.0,282.5 L372.5,284.7 L374.7,286.0 L376.6,287.7 L377.3,290.6 L379.6,291.8 L382.0,293.4 L384.7,294.4 L386.7,296.5"/>
<path d="M386.7,296.5 L386.3,299.9 L387.7,303.0 L387.8,305.8 L386.0,307.9 L385.0,310.5 L385.6,313.4 L384.4,316.0 L384.6,318.6 L387.5,320.0 L387.7,322.6 L388.7,325.7 L390.7,328.2 L392.6,330.7 L394.9,332.9 L397.5,334.8 L400.7,335.6 L403.2,337.4 L405.3,339.7 L407.2,342.1 L407.9,344.5 L409.8,346.2 L410.5,348.6 L409.8,351.5 L408.8,354.2 L407.2,356.7 L407.0,359.6 L407.5,362.3 L408.8,364.9 L408.2,367.3 L409.4,369.8 L408.0,372.2 L408.8,374.6 L410.4,376.7 L412.1,378.7 L409.9,380.6 L407.2,381.6 L404.8,383.1 L402.3,384.4 L401.3,387.1 L398.9,388.7 L397.4,390.9 L396.5,393.4 L395.1,395.7 L392.7,396.8 L390.0,397.3 L387.9,399.0 L385.7,400.5 L383.4,401.6 L380.7,401.7 L378.2,402.4 L376.2,404.3 L373.8,405.2 L372.4,407.4 L373.6,410.2 L372.8,412.5 L371.5,414.7 L370.4,417.4 L367.6,418.9 L366.7,421.8 L364.1,423.9 L362.0,426.5 L361.1,428.8 L361.5,431.3 L360.6,433.6 L359.3,435.8 L359.6,438.3 L359.6,440.9 L358.1,443.1"/>
<path d="M372.5,253.9 L376.1,251.5 L378.7,250.7 L381.4,250.3 L384.0,249.6 L386.7,249.2 L389.6,249.3 L392.4,249.5 L395.3,250.2 L398.2,249.7 L401.0,250.4 L403.8,250.4 L406.6,248.9 L409.4,249.3 L412.3,249.1 L415.1,249.2 L417.4,251.1 L418.3,254.2 L420.7,256.0 L422.2,258.6 L423.3,261.3 L424.6,263.8 L427.0,265.7 L428.2,267.9 L427.8,270.7 L429.3,272.8 L431.3,274.9 L433.8,276.3 L436.4,277.6 L439.6,276.7 L442.7,277.5 L445.9,277.6 L448.3,277.0 L450.5,275.6 L453.0,275.2 L456.2,274.6 L459.3,274.8 L462.5,275.2"/>
<path d="M372.5,253.9 L372.2,256.8 L371.3,259.7 L370.8,262.7 L371.4,265.7 L374.1,265.9 L376.6,267.4 L379.3,267.9 L382.0,268.1 L384.9,268.4 L387.9,267.3 L390.9,267.2 L393.8,268.1 L396.3,269.1 L398.3,270.9 L400.9,271.7 L402.9,273.4 L404.1,275.6 L405.7,277.6 L407.2,279.8 L407.4,282.6 L409.2,284.7 L406.7,286.5 L405.7,289.4 L403.5,291.9 L401.0,294.1 L397.9,295.8 L396.2,298.9 L393.3,300.5 L390.0,300.5"/>
<path d="M428.2,160.8 L430.6,161.9 L431.9,164.2 L434.1,165.5 L434.9,167.8 L435.7,170.1 L435.6,172.6 L436.0,174.9 L436.5,177.3 L437.0,179.7 L437.5,182.0 L438.4,184.3 L438.9,186.7 L438.9,189.2 L441.1,190.7 L443.8,191.2 L445.8,193.0 L448.3,193.9 L447.2,197.4 L447.2,201.0 L444.7,202.0 L442.7,203.4 L441.2,205.7 L439.2,207.9 L436.8,209.7 L433.9,210.7 L431.8,212.8 L431.2,215.2 L431.4,217.7 L430.0,219.9 L429.1,222.2 L429.4,224.7 L428.3,226.9 L429.0,229.5 L428.4,231.9 L428.4,234.3 L427.0,236.5 L429.0,238.3 L432.0,237.9 L434.0,239.7 L436.5,240.3 L438.9,241.2 L441.2,242.6 L443.6,243.6 L445.7,245.4 L448.3,246.0 L448.6,248.4 L449.6,250.6 L450.5,252.9 L450.3,255.4 L450.7,257.8 L450.5,260.4 L452.6,262.4 L452.1,265.0 L453.1,267.3 L450.6,268.7 L448.3,270.5 L448.1,273.1 L447.3,275.4 L445.9,277.6"/>
<path d="M505.5,246.0 L503.0,245.9 L500.5,246.0 L498.1,246.9 L495.7,247.2 L493.3,247.9 L491.0,248.8 L488.3,248.3 L486.3,250.4 L483.8,250.7 L482.8,253.5 L481.1,255.7 L479.1,257.8 L479.0,260.3 L478.2,262.6 L477.8,265.0 L476.7,267.3 L474.9,270.2 L472.0,272.0 L469.7,273.1 L467.4,274.0 L464.8,274.3 L462.5,275.2"/>
<path d="M462.5,275.2 L463.0,278.0 L464.9,280.0 L463.2,282.3 L461.6,284.7 L460.0,287.1 L459.3,290.0 L457.6,292.0 L455.1,293.0 L452.7,294.2 L451.2,296.5 L448.4,297.1 L446.2,298.8 L444.1,300.8 L441.4,301.4 L439.0,303.2 L436.5,304.7 L434.5,307.0 L435.1,310.4 L433.3,312.8 L432.8,316.1 L431.6,319.3 L431.9,322.3 L433.9,324.7 L434.9,327.4 L436.6,329.6 L437.7,332.1 L437.8,335.1 L439.8,337.2 L441.3,339.5 L442.3,342.0 L443.2,344.7 L444.6,347.0 L446.4,349.6 L449.0,351.3 L451.2,353.5 L453.5,355.2 L454.3,357.9 L456.0,360.0 L459.0,360.9 L460.9,363.3 L464.2,364.9"/>
<path d="M412.1,378.7 L413.8,376.3 L416.7,375.2 L418.6,373.0 L421.1,372.9 L423.5,372.2 L425.9,371.2 L428.4,371.4 L430.2,373.5 L432.4,375.2 L434.9,376.3 L437.1,378.0 L439.2,379.6 L441.4,381.2 L443.8,380.3 L446.1,379.4 L448.7,379.7 L451.2,379.5 L453.7,379.3 L455.9,377.9 L458.6,378.9 L460.9,377.9 L461.5,375.5 L462.6,373.3 L464.2,371.4 L463.3,368.1 L464.2,364.9 L467.0,364.1 L468.8,362.0 L470.7,360.0 L473.3,360.3 L475.6,359.4 L477.9,357.9 L480.5,358.4 L482.8,357.3 L485.3,356.7 L487.5,355.2 L490.2,355.1 L492.0,357.0 L494.7,357.1 L496.7,358.4 L500.5,361.2 L503.1,361.3 L505.0,363.4 L507.8,362.9 L509.7,365.2 L512.4,365.1 L514.7,366.0 L514.6,369.1 L515.0,372.3 L514.7,375.4 L517.1,375.9 L519.5,375.7 L522.0,375.9 L524.0,378.0 L526.5,377.8 L528.5,379.9 L529.2,382.8 L531.2,384.9 L533.7,384.8 L535.8,386.8 L538.2,387.1 L540.6,387.3 L543.1,387.3 L545.2,388.9 L547.7,389.8 L549.9,391.2 L552.5,392.0 L555.3,392.9 L557.3,395.1 L559.6,396.7 L561.5,399.6 L564.4,401.5 L566.1,403.3 L566.0,406.2 L567.2,408.3 L569.1,410.0"/>
<path d="M514.7,375.4 L512.0,375.6 L510.2,378.1 L508.0,379.3 L504.8,378.5 L503.1,381.1 L500.8,382.2 L498.1,382.5 L495.6,383.4 L493.5,385.2 L490.6,385.4 L488.6,387.3 L487.9,389.9 L485.4,391.6 L485.4,394.5 L483.9,396.7 L484.2,399.4 L484.0,402.2 L485.0,404.7 L485.0,407.5 L486.3,410.0 L484.9,412.3 L485.2,415.3 L482.7,417.2 L482.4,420.0 L481.0,422.3 L480.3,424.9 L478.8,427.1 L477.5,429.3 L474.8,430.1 L473.5,432.4 L475.3,436.0 L478.1,436.3 L480.9,437.2 L483.8,437.1 L486.6,437.6 L489.5,436.9 L492.3,437.2 L495.2,437.7 L498.0,437.7 L500.9,437.1 L503.7,437.8 L506.4,437.8 L508.3,435.6 L510.8,435.1 L513.2,436.9 L515.6,438.5 L518.5,439.2 L521.2,440.2 L523.5,441.5 L524.3,444.2 L526.3,445.8 L528.3,447.3 L528.9,450.5 L529.2,453.6 L528.3,456.8 L530.6,459.2 L533.0,461.5"/>
<path d="M566.7,267.5 L567.1,270.6 L568.3,273.3 L569.6,276.0 L571.5,278.4 L571.1,281.0 L569.1,282.8 L568.3,285.1 L567.1,287.3 L566.6,289.7 L567.0,292.2 L566.5,294.5 L565.6,296.8 L565.7,299.2 L564.7,301.5 L566.5,303.2 L568.9,304.4 L570.6,306.2 L571.8,308.6 L574.0,310.4 L576.6,311.3 L578.9,312.9 L581.1,314.7 L583.7,315.7 L586.2,316.4 L588.8,316.8 L590.6,319.1 L593.1,319.7 L595.5,320.5 L597.8,321.3 L600.2,321.7 L602.4,322.8 L605.0,322.1 L607.3,322.8 L608.0,325.4 L609.7,327.6 L608.4,330.1 L606.4,332.3 L605.0,334.7 L603.5,336.9 L602.9,339.6 L602.1,342.1 L600.2,344.1 L598.5,346.5 L596.3,348.6 L594.7,351.1 L593.1,353.6 L590.8,355.5 L588.2,356.9 L586.4,359.4 L583.7,360.7 L582.6,363.4 L580.8,365.6 L578.9,367.8 L578.9,370.3 L580.7,372.4 L581.4,374.7 L581.3,377.3 L581.1,380.0 L580.3,382.4 L578.9,384.5 L577.4,386.7 L576.6,389.1 L574.8,391.6 L574.5,394.7 L573.2,397.4 L571.8,400.0 L571.5,402.6 L570.8,405.1 L569.2,407.4 L569.1,410.0 L570.5,413.0 L572.0,416.0 L574.1,417.5 L575.5,419.6"/>
<path d="M571.5,278.4 L574.1,277.3 L576.2,275.5 L578.6,276.6 L581.3,275.7 L583.7,276.7 L586.4,277.6 L588.9,275.8 L591.6,276.6 L594.1,275.4 L596.8,276.5 L599.4,275.2 L602.1,276.2 L604.7,276.1 L607.3,275.5 L609.8,275.6 L612.0,274.6 L614.5,275.0 L616.9,274.9 L619.0,272.7 L621.5,273.1 L623.9,271.7 L626.7,271.0 L628.9,269.3 L631.0,267.3 L633.4,266.0 L635.6,264.5 L638.1,263.7 L640.3,265.0 L643.0,263.8 L645.1,265.6 L647.5,266.2 L650.0,266.0 L652.2,264.6 L654.6,264.3 L657.0,263.5 L659.5,263.3 L661.8,262.5 L663.6,264.3 L664.3,266.9 L666.5,268.4 L666.1,270.9 L667.7,273.1 L667.7,275.5 L667.2,278.5 L669.2,281.3 L669.4,284.3 L668.9,287.3 L669.0,289.7 L669.2,292.2 L669.7,294.6 L669.8,297.0 L671.2,299.2 L671.1,301.7 L672.9,303.8 L672.5,306.4 L673.6,308.6 L674.5,311.4 L677.4,312.9 L678.3,315.7 L681.3,316.0 L684.3,315.6 L687.3,315.9 L690.2,316.9 L692.1,314.9 L694.4,313.2 L696.1,311.0 L697.1,313.9 L699.6,315.7"/>
<path d="M800.2,230.5 L799.3,233.3 L797.2,235.5 L796.9,238.5 L794.7,240.3 L794.0,243.3 L791.9,245.2 L789.6,246.8 L788.3,249.2 L787.6,252.0 L785.2,253.5 L783.5,256.6 L783.5,260.2 L780.3,261.9 L776.8,262.7 L774.1,263.6 L771.3,264.0 L768.5,264.4 L765.8,264.0 L763.1,264.8 L760.5,263.5 L757.8,263.0 L755.1,263.5 L752.2,263.1 L749.3,262.1 L746.4,262.1 L743.4,261.9 L739.9,262.1 L736.7,263.5 L734.8,265.2 L732.4,266.0 L730.0,266.9 L729.4,269.8 L729.4,272.8 L728.0,275.5 L729.6,277.9 L732.2,278.9 L735.0,279.7 L736.7,281.9 L740.0,282.9 L743.4,283.6 L744.7,285.8 L746.2,287.8 L746.7,290.3 L748.4,292.2 L749.0,294.7 L750.1,297.0 L750.1,300.3"/>
<path d="M212.0,378.5 L214.6,379.2 L217.4,378.4 L220.0,379.2 L222.6,379.4 L224.7,381.0 L227.4,380.7 L229.3,382.9 L231.7,383.6 L234.2,383.9 L237.1,384.9 L238.7,387.7 L241.3,389.2 L243.7,391.0 L246.0,391.7 L248.2,392.8 L250.6,393.4 L253.2,392.7 L255.5,393.4 L258.2,392.6 L260.5,391.1 L263.1,389.9 L264.5,386.9 L267.3,386.3 L269.9,386.3 L271.9,384.2 L274.2,383.2 L276.8,383.3 L279.4,382.9 L281.5,381.5 L281.2,384.1 L283.0,386.2 L282.7,388.8 L283.9,391.0 L283.6,393.8 L280.7,395.3 L280.7,398.3 L279.2,400.5 L281.5,401.0 L284.1,400.7 L286.5,401.0 L288.8,401.4 L291.0,402.8 L293.4,402.5 L295.7,402.0 L298.2,402.0 L300.6,401.6 L302.8,400.5 L305.1,399.4 L307.8,399.2 L309.7,397.1 L312.6,397.4 L314.7,395.7 L317.6,395.2 L320.6,396.6 L323.6,395.5 L326.5,395.7 L329.3,395.6 L332.0,395.7 L334.8,394.8 L337.6,394.8 L340.3,395.8 L343.1,395.7 L345.4,396.6 L348.0,395.8 L350.2,397.0 L352.6,397.4 L354.9,398.1 L357.0,399.8 L359.2,401.3 L362.4,400.9 L364.4,402.8 L366.7,403.5 L369.3,403.2 L371.3,405.1 L373.8,405.2"/>
<path d="M206.0,381.5 L207.2,383.6 L208.5,385.6 L209.5,387.9 L212.2,388.9 L213.1,391.2 L216.0,392.3 L217.4,395.3 L220.4,396.3 L222.5,398.3 L224.1,400.3 L224.8,402.9 L227.3,404.4 L227.5,407.3 L229.6,409.0 L230.1,411.6 L231.4,414.0 L230.2,417.0 L231.4,419.4 L232.0,422.0 L233.9,424.1 L233.7,427.3 L235.0,429.7 L236.7,432.0 L237.0,434.9 L238.0,437.6 L239.1,440.2 L239.8,443.1 L243.0,444.4 L243.8,447.3 L242.3,449.5 L242.4,452.0 L242.6,454.5 L241.5,456.8 L239.0,458.2 L236.9,460.2 L234.4,461.5 L232.6,463.7 L230.9,466.0 L229.6,468.6 L230.4,471.0 L232.0,473.1 L232.0,475.7 L234.5,477.3 L237.0,478.9 L238.8,481.4 L241.5,482.8 L243.5,484.8 L246.0,485.7 L248.6,486.5 L251.0,487.6 L254.1,487.7 L257.0,489.0"/>
<path d="M238.0,360.0 L240.1,362.0 L241.5,364.5 L242.1,367.4 L243.7,369.7 L246.7,369.4 L249.7,369.6 L252.6,370.5 L255.5,370.9 L257.8,370.1 L260.1,369.1 L262.5,368.9 L265.1,369.2 L267.2,367.2 L269.7,367.3 L269.9,364.7 L270.4,362.3 L272.1,360.2 L269.9,358.5 L267.9,356.6 L267.5,353.4 L265.0,352.0 L267.2,350.2 L270.2,349.8 L271.7,346.9 L274.4,346.0 L277.3,346.4 L279.9,345.2 L282.8,345.2 L285.5,344.8 L288.2,343.6 L291.0,343.7 L293.9,343.6 L296.6,345.0 L299.6,344.4 L302.5,344.6 L305.2,346.0 L308.0,346.8 L310.9,346.7 L313.8,346.2 L316.6,347.0 L319.4,347.2 L321.8,346.2 L322.9,343.5 L324.6,341.7 L326.9,340.4 L328.9,338.9 L330.9,336.9 L333.5,335.7 L335.5,333.7 L338.3,333.0 L341.1,332.6 L343.8,331.8 L346.2,330.1 L349.0,329.5 L349.8,331.8 L350.6,334.1 L349.9,336.8 L350.6,339.1 L351.6,341.4 L352.5,343.7 L354.3,345.8 L355.5,348.1 L355.6,351.0 L357.3,353.1 L359.0,355.3 L359.3,358.2 L361.0,360.5 L362.0,363.0 L364.7,363.0 L366.9,364.2 L368.8,366.4 L371.6,366.1 L373.8,367.3 L376.1,368.4 L378.4,369.3 L381.0,369.3 L383.3,370.3 L385.7,371.0 L387.9,372.1 L390.4,372.3 L392.8,372.3 L395.2,372.8 L397.6,373.0 L399.9,373.5 L402.9,373.7 L405.8,374.6 L408.8,374.6"/>
<path d="M297.8,455.5 L300.4,454.8 L302.8,453.7 L305.6,453.9 L307.8,452.1 L310.4,451.7 L312.9,450.7 L315.5,450.2 L318.0,449.5 L320.8,450.1 L323.0,447.9 L325.6,448.0 L328.1,447.1 L330.7,446.8 L333.3,446.6 L336.1,446.7 L338.1,444.5 L340.8,444.2 L343.2,442.9 L345.7,442.2 L348.6,443.0 L351.6,442.7 L354.6,443.1 L356.8,444.4 L358.2,446.6 L360.1,448.3 L361.7,450.2 L363.4,452.2 L365.8,453.3 L368.3,454.2 L369.8,456.4 L372.3,457.3 L374.1,459.1 L376.2,460.9 L378.7,462.2 L380.6,464.2 L382.2,466.6 L384.7,467.9 L386.5,470.6 L388.3,473.3 L387.2,475.5 L386.6,477.9 L386.5,480.4 L387.5,482.8 L388.6,485.3 L390.1,487.5 L392.0,489.7 L393.4,492.4 L395.4,494.6 L395.5,497.1 L397.4,499.1 L397.2,501.7 L397.2,505.2"/>
<path d="M297.8,455.5 L299.1,457.8 L300.8,459.7 L302.6,461.7 L303.1,464.4 L304.6,466.8 L307.1,468.5 L308.8,470.8 L310.2,473.3 L312.1,474.9 L313.5,477.0 L315.5,478.6 L318.3,480.2 L321.4,479.7 L324.4,480.4 L324.7,483.2 L325.8,485.6 L327.9,487.5 L330.0,488.9 L332.1,490.4 L333.7,492.3 L335.0,494.6 L336.9,496.5 L339.3,497.4 L341.2,499.3 L343.9,499.9 L345.0,502.3 L347.2,503.7 L349.2,505.3 L351.0,507.0 L353.5,509.2 L354.6,512.3"/></g>
  <path d="M189.4,287.4 L190.7,285.4 L191.9,283.5 L194.0,282.2 L195.3,280.3 L195.9,278.3 L197.6,277.0 L198.5,275.2 L199.3,273.3 L201.0,272.0 L202.3,270.3 L202.9,268.1 L204.7,266.7 L206.0,265.0 L206.3,262.8 L207.3,260.9 L208.7,259.2 L210.2,257.5 L210.7,255.4 L211.1,253.3 L212.2,251.4 L213.7,249.9 L215.1,248.2 L215.4,246.0 L217.3,244.3 L219.0,242.4 L220.9,241.4 L223.3,241.5 L225.0,240.0 L227.1,239.3 L229.2,240.6 L231.4,239.7 L233.5,239.4 L235.6,240.0 L237.5,239.0 L239.5,239.0 L241.5,238.9 L242.7,235.3 L242.3,232.8 L241.0,230.6 L242.0,228.5 L243.8,227.0 L245.0,224.7 L246.0,222.3 L248.6,221.6 L251.0,220.4 L252.7,221.7 L254.1,223.3 L255.7,224.7 L257.9,224.8 L259.9,225.6 L261.6,227.0 L262.6,225.1 L264.6,224.1 L265.7,222.2 L267.0,220.5 L268.7,219.3 L270.0,217.6 L271.7,216.1 L273.3,214.4 L275.6,213.5 L277.0,211.7 L278.9,210.8 L280.1,209.0 L282.1,208.2 L283.8,207.0 L285.8,206.3 L287.3,204.9 L288.8,203.4 L290.1,201.2 L292.5,199.9 L293.5,197.5 L295.2,196.1 L297.2,195.7 L299.4,195.4 L300.9,193.7 L303.0,193.4 L305.1,193.4 L307.2,192.7 L309.2,193.7 L311.3,193.8 L313.4,193.5 L315.5,194.0 L317.5,193.1 L319.6,193.7 L321.7,193.6 L323.8,193.5 L325.8,193.3 L327.9,193.9 L330.0,193.4 L332.1,194.0 L334.1,193.2 L336.1,193.4 L338.1,192.3 L340.2,193.2 L342.2,193.0 L344.2,193.5 L346.3,193.1 L348.2,192.2 L350.3,192.2 L352.3,192.6 L354.3,191.4 L356.4,192.0 L358.4,192.0 L359.9,190.3 L361.6,188.9 L363.3,187.5 L365.5,186.8 L366.7,185.1 L366.6,182.8 L367.7,181.1 L368.7,179.3 L370.3,177.8 L369.9,175.4 L371.4,173.8 L373.3,172.7 L375.4,171.8 L377.3,170.7 L379.8,170.6 L382.2,169.8 L384.6,169.2 L386.8,167.9 L388.3,166.0 L390.2,164.6 L392.0,163.1 L392.3,160.9 L393.6,159.0 L394.2,156.9 L393.4,154.5 L394.4,152.5 L396.7,152.4 L398.9,152.9 L401.0,153.7 L403.0,154.0 L404.8,155.1 L406.7,155.9 L408.7,156.1 L410.5,157.2 L413.1,157.0 L415.3,158.3 L417.7,158.8 L420.0,159.6 L422.0,160.0 L424.0,160.9 L426.1,160.8 L428.2,160.8 L430.2,162.2 L432.0,163.8 L434.1,165.0 L436.1,165.5 L438.2,164.8 L440.1,166.4 L442.2,166.4 L444.2,166.8 L446.2,166.9 L448.3,166.7 L450.5,167.1 L452.6,167.6 L454.8,167.7 L456.7,169.0 L459.0,168.6 L461.1,169.2 L463.2,169.9 L465.3,170.4 L467.3,171.4 L469.6,170.6 L471.8,169.5 L474.2,168.8 L476.7,169.0 L478.4,167.2 L480.3,165.8 L482.7,165.0 L485.2,166.3 L487.4,167.9 L489.0,166.3 L491.6,166.5 L493.3,165.0 L495.7,165.4 L498.1,164.9 L500.5,165.4 L502.8,166.0 L504.7,167.2 L506.5,168.5 L508.5,169.6 L509.9,171.4 L510.3,173.8 L510.9,176.0 L512.6,177.8 L513.4,180.0 L515.4,181.5 L517.7,182.4 L519.7,183.9 L521.3,185.9 L521.8,188.3 L522.2,190.8 L521.5,193.3 L522.3,195.7 L524.3,196.6 L526.0,197.8 L527.2,199.7 L529.6,200.2 L531.9,199.3 L534.2,198.5 L536.6,199.0 L539.0,198.7 L537.5,200.9 L535.0,201.9 L533.1,203.6 L533.9,206.0 L536.0,207.5 L534.0,206.2 L531.7,205.8 L529.3,205.7 L527.2,204.6 L524.8,205.1 L522.4,205.6 L519.8,204.9 L517.4,205.6 L515.9,207.5 L514.1,209.2 L513.2,211.6 L511.5,213.4 L510.7,215.6 L508.7,217.1 L507.3,218.9 L506.3,221.0 L505.6,223.3 L504.9,225.7 L504.6,228.1 L504.5,230.6 L504.6,233.1 L505.7,234.9 L505.9,237.0 L506.8,238.9 L507.9,240.7 L508.6,242.7 L508.5,244.9 L510.4,246.6 L512.1,248.6 L513.4,250.8 L515.3,251.7 L517.2,252.7 L519.4,252.5 L521.1,253.8 L523.3,253.7 L525.1,254.9 L527.1,255.2 L529.2,254.7 L531.2,254.9 L533.1,255.7 L535.3,256.3 L537.3,257.3 L539.0,258.7 L539.5,261.3 L538.8,263.9 L539.0,266.5 L541.6,266.7 L544.0,266.1 L546.3,265.0 L548.8,264.6 L551.3,265.1 L553.7,265.5 L556.3,264.6 L558.7,265.5 L561.3,266.1 L563.8,266.8 L566.5,266.5 L568.7,265.9 L570.6,264.9 L572.4,263.5 L574.4,262.6 L576.7,261.7 L579.2,262.3 L581.4,261.1 L583.9,261.5 L586.2,260.6 L588.5,260.3 L590.1,258.5 L592.1,257.5 L594.1,256.7 L596.3,255.2 L597.6,253.0 L599.0,250.8 L598.1,248.2 L597.7,245.6 L598.0,242.9 L599.6,241.0 L602.3,240.5 L604.2,238.9 L605.9,237.0 L607.6,235.5 L610.1,235.5 L612.1,234.7 L613.9,233.3 L615.6,231.9 L617.7,231.1 L619.7,230.2 L621.4,228.6 L623.3,227.5 L625.9,227.8 L627.6,226.4 L629.5,225.2 L631.5,223.8 L633.8,222.8 L635.3,220.7 L637.3,219.3 L639.2,218.2 L640.5,216.7 L641.2,214.6 L643.0,213.4 L640.8,212.8 L638.9,211.7 L636.8,210.8 L635.0,209.5 L637.0,209.4 L639.0,208.7 L641.0,208.7 L643.0,208.6 L644.8,207.4 L647.2,208.0 L648.9,206.6 L651.0,206.1 L653.0,205.6 L655.0,205.2 L657.1,205.1 L658.9,203.8 L661.1,204.0 L662.9,202.7 L664.8,202.2 L666.8,201.6 L668.7,200.9 L670.3,199.4 L672.4,199.3 L674.1,198.2 L675.8,197.2 L678.2,197.7 L679.7,196.1 L681.7,195.8 L683.6,195.1 L685.6,195.5 L687.7,195.2 L689.7,194.8 L691.7,195.1 L693.7,195.2 L695.8,195.6 L697.8,195.1 L700.2,196.2 L701.7,198.3 L703.7,199.8 L705.6,200.7 L707.2,201.9 L708.4,203.7 L710.3,204.5 L712.0,205.7 L714.4,206.1 L716.7,206.7 L719.0,207.3 L721.5,206.9 L722.3,208.8 L722.7,210.8 L723.6,212.6 L724.3,214.5 L725.0,216.4 L727.1,217.3 L729.3,217.6 L731.4,218.3 L733.6,218.8 L735.7,219.5 L737.9,219.6 L739.9,218.7 L742.0,218.4 L744.0,217.9 L745.9,216.7 L747.5,219.0 L748.4,221.7 L750.0,223.2 L751.3,225.2 L753.1,226.5 L755.1,227.6 L757.4,228.1 L759.5,229.2 L761.4,230.7 L763.4,231.8 L765.4,230.3 L767.7,229.7 L770.1,229.3 L772.2,228.9 L774.1,230.2 L776.1,230.7 L778.1,231.2 L780.2,230.9 L782.2,230.3 L784.2,231.1 L786.2,230.9 L788.2,230.0 L790.2,231.1 L792.2,231.2 L794.2,229.9 L796.2,231.0 L798.2,230.0 L800.2,230.1 L802.3,229.3 L804.7,229.2 L806.7,228.1 L808.6,226.8 L810.5,224.9 L813.0,223.9 L815.3,222.6 L817.5,222.6 L819.8,222.3 L822.0,222.6 L822.0,225.2 L821.1,227.6 L822.7,229.1 L823.6,231.2 L825.3,232.6 L827.3,231.6 L829.5,232.3 L831.6,231.9 L833.7,231.8 L836.3,232.2 L838.3,233.8 L840.4,235.1 L842.6,235.3 L844.8,235.1 L847.0,234.4 L849.3,235.9 L851.5,235.6 L853.7,235.1 L855.7,236.0 L857.8,234.8 L859.8,235.3 L861.8,235.1 L863.8,236.0 L865.9,236.5 L868.0,235.8 L870.1,235.7 L872.1,236.2 L874.2,237.1 L876.3,236.5 L874.2,236.7 L872.6,238.2 L870.5,238.5 L868.3,240.6 L865.5,241.8 L864.3,243.9 L864.3,246.2 L863.8,248.5 L864.1,250.8 L865.6,252.8 L865.5,255.2 L865.0,257.3 L863.0,258.4 L862.1,260.2 L859.9,261.4 L857.9,263.0 L855.4,263.5 L853.9,265.3 L853.5,267.6 L852.5,269.6 L852.1,271.9 L854.3,271.7 L856.1,273.3 L858.5,272.5 L860.4,273.6 L859.5,275.5 L859.8,277.6 L859.7,279.6 L859.0,281.6 L858.8,283.6 L856.4,283.8 L854.7,285.6 L852.7,286.7 L850.4,287.0 L848.4,287.8 L846.6,289.0 L844.6,290.0 L842.6,290.8 L840.4,291.1 L838.4,291.8 L836.4,291.6 L834.3,291.4 L832.3,291.4 L830.3,291.1 L828.9,289.3 L826.7,288.5 L825.3,286.7 L823.6,285.3 L820.3,283.6 L821.3,281.7 L823.0,280.3 L824.0,278.4 L825.7,277.1 L826.9,275.3 L829.1,274.5 L830.3,272.7 L828.6,273.9 L827.3,275.6 L825.3,276.5 L823.2,277.2 L822.4,279.5 L820.0,279.9 L818.7,281.6 L817.0,282.8 L814.8,282.0 L812.7,280.6 L810.3,280.3 L807.0,281.9 L804.8,282.6 L802.5,283.0 L800.2,283.3 L797.8,283.4 L795.8,285.0 L793.5,285.3 L791.2,285.6 L789.2,286.6 L787.2,287.6 L785.2,288.6 L783.6,290.4 L782.0,292.1 L780.2,293.6 L778.4,295.1 L776.2,295.8 L774.2,296.8 L771.8,297.0 L770.6,299.4 L770.1,302.0 L766.8,300.3 L765.9,297.9 L765.1,295.4 L765.1,292.8 L763.2,294.8 L760.3,295.1 L758.4,297.0 L756.1,297.3 L754.1,298.4 L752.3,299.8 L750.1,300.3 L748.2,301.4 L746.2,302.0 L744.1,302.4 L742.2,303.5 L740.0,303.7 L737.9,304.2 L735.8,305.0 L733.4,304.4 L731.3,304.8 L729.3,306.0 L727.3,306.7 L725.5,308.0 L723.1,307.7 L721.5,309.5 L719.6,310.2 L717.5,310.8 L715.9,312.5 L713.7,312.9 L711.6,313.8 L709.6,314.7 L707.9,316.1 L705.7,316.7 L703.3,315.5 L700.6,315.0 L698.6,313.1 L696.4,314.6 L693.8,315.5 L696.0,315.9 L697.7,317.2 L699.8,317.7 L701.7,318.6 L703.3,320.2 L704.8,322.5 L705.7,325.0 L704.9,327.0 L703.2,328.5 L702.1,330.3 L701.0,332.1 L699.1,333.4 L697.6,335.1 L696.2,336.8 L695.3,334.8 L694.4,332.9 L692.5,331.6 L691.5,329.7 L689.7,330.7 L687.4,330.4 L686.0,332.4 L683.8,332.2 L682.0,333.3 L680.6,335.2 L680.3,337.8 L678.0,339.2 L677.3,341.5 L676.4,343.8 L676.5,346.2 L676.0,348.6 L676.1,351.0 L674.5,353.1 L674.2,356.0 L672.5,358.1 L670.6,359.0 L668.7,360.0 L666.6,360.4 L664.8,361.4 L663.1,362.8 L661.0,362.9 L659.1,363.9 L657.0,364.0 L655.1,364.9 L653.1,365.5 L651.2,366.4 L649.0,367.6 L646.7,368.7 L644.1,368.8 L643.5,366.7 L643.9,364.5 L643.5,362.4 L644.6,360.2 L644.1,358.1 L643.4,355.7 L642.8,353.3 L641.8,351.0 L639.3,352.0 L636.9,353.1 L634.7,354.6 L632.3,354.2 L629.8,354.6 L627.6,353.4 L625.8,354.9 L624.3,356.7 L623.2,358.7 L621.7,360.5 L622.2,362.9 L622.8,365.2 L625.1,366.2 L627.8,366.1 L630.0,367.6 L632.1,369.7 L634.7,371.1 L636.9,372.0 L639.0,372.9 L640.6,374.7 L638.8,376.2 L636.5,376.7 L634.7,378.2 L632.5,379.8 L629.8,380.3 L627.6,381.8 L625.4,382.3 L624.1,384.2 L622.4,385.5 L620.5,386.5 L618.9,388.1 L617.1,389.4 L615.7,391.2 L614.2,392.7 L613.2,394.6 L612.0,396.4 L611.0,398.3 L609.9,400.4 L608.3,401.9 L606.3,403.1 L605.0,404.9 L602.8,406.0 L601.5,407.8 L599.8,409.0 L597.7,409.6 L596.2,411.3 L594.3,412.2 L592.1,412.5 L589.8,413.5 L587.3,413.4 L584.9,414.0 L582.6,414.9 L580.7,415.8 L579.2,417.5 L577.3,418.4 L575.5,419.6 L574.4,421.4 L573.2,423.2 L572.5,425.3 L570.8,426.7 L569.1,428.1 L568.8,430.5 L566.6,431.6 L566.0,433.8 L564.2,435.5 L564.3,438.3 L562.5,440.0 L560.0,441.4 L558.6,442.9 L556.8,444.0 L555.2,445.3 L554.3,447.3 L553.6,449.5 L553.1,451.8 L552.4,454.0 L550.5,455.8 L550.8,458.4 L549.6,460.4 L547.2,461.0 L545.0,462.5 L542.5,462.7 L540.1,462.4 L537.8,461.4 L535.3,462.4 L533.0,461.5 L530.5,461.8 L528.3,463.1 L525.9,463.9 L523.8,463.7 L521.9,464.4 L520.1,465.5 L517.9,464.9 L516.1,465.9 L514.1,466.3 L512.3,467.4 L510.3,467.8 L508.2,467.5 L506.2,467.9 L504.2,468.5 L502.2,468.6 L501.5,470.7 L500.1,472.3 L498.9,474.1 L497.5,475.7 L495.6,477.3 L495.3,480.0 L492.9,481.2 L491.4,483.0 L490.4,485.2 L490.4,487.7 L488.5,489.8 L488.3,492.2 L488.0,494.7 L486.3,496.8 L485.7,499.4 L483.7,500.1 L481.7,500.3 L479.6,500.6 L477.5,500.0 L475.5,501.0 L473.6,501.7 L471.5,501.8 L469.6,502.7 L467.7,503.7 L465.8,504.8 L463.8,505.5 L461.4,505.2 L459.6,506.5 L459.4,509.0 L457.8,511.1 L458.3,513.7 L457.3,516.0 L457.2,518.2 L456.3,520.2 L456.3,522.5 L455.6,524.5 L454.9,526.6 L452.8,526.3 L450.8,526.8 L448.9,527.3 L447.0,528.0 L444.9,528.0 L443.1,529.0 L440.6,528.9 L438.3,530.1 L435.9,530.5 L433.6,531.4 L432.4,529.4 L433.0,527.0 L432.1,525.0 L432.1,522.8 L431.2,520.7 L429.6,519.3 L427.5,518.6 L425.5,517.8 L424.1,516.0 L424.8,513.6 L424.1,511.2 L422.0,510.8 L420.3,509.4 L418.3,508.6 L416.4,507.7 L414.7,506.5 L412.4,505.8 L410.0,505.1 L407.5,506.0 L405.2,505.3 L402.8,505.4 L400.5,506.2 L398.1,506.1 L395.7,506.5 L394.9,508.5 L394.3,510.5 L393.4,512.4 L392.4,514.3 L391.0,516.0 L388.8,516.4 L387.2,517.9 L385.5,519.2 L383.1,519.2 L381.5,520.7 L379.4,520.3 L377.6,521.6 L375.7,522.5 L373.7,522.8 L371.8,523.3 L369.7,523.1 L367.7,522.6 L365.7,522.3 L363.9,521.3 L362.0,520.6 L360.2,519.5 L358.5,517.9 L357.0,516.1 L355.1,514.8 L353.1,513.6 L350.8,514.5 L348.4,515.3 L346.0,516.0 L344.6,517.4 L343.3,519.0 L341.9,520.4 L340.8,522.2 L338.9,523.1 L336.4,522.6 L334.4,520.8 L331.8,520.7 L329.9,519.2 L329.0,516.9 L327.7,514.9 L326.6,512.8 L324.7,511.2 L323.5,509.4 L322.8,507.4 L322.0,505.4 L321.4,503.4 L320.7,501.4 L320.0,499.4 L319.3,497.4 L317.9,495.9 L316.7,494.3 L314.4,493.5 L313.2,491.9 L312.5,489.9 L310.8,488.2 L309.1,486.6 L306.8,485.7 L305.0,484.1 L303.0,482.8 L300.5,482.3 L298.8,480.6 L297.1,478.7 L294.7,478.1 L292.5,477.8 L290.4,478.0 L288.3,478.1 L286.3,479.5 L284.1,479.3 L282.2,480.3 L280.1,480.5 L278.0,480.3 L275.9,480.4 L273.8,480.3 L271.9,481.0 L269.9,481.7 L267.8,482.5 L265.7,483.3 L264.0,484.7 L261.9,485.6 L260.3,487.3 L258.0,487.6 L256.8,489.8 L256.9,492.5 L255.7,494.7 L254.6,496.5 L254.7,498.6 L254.8,500.7 L254.7,502.7 L254.1,504.6 L253.3,506.5 L251.5,507.7 L249.7,509.0 L248.6,511.1 L247.0,512.5 L244.8,513.3 L243.1,514.5 L241.5,516.0 L239.1,515.6 L236.6,515.2 L234.4,514.0 L232.0,513.6 L229.8,514.0 L227.9,513.2 L225.9,512.6 L224.0,511.5 L221.9,511.7 L219.9,510.9 L217.8,511.2 L215.8,511.6 L213.8,512.3 L211.8,512.6 L209.6,511.8 L207.6,512.6 L205.7,513.6 L203.6,513.6 L201.6,514.5 L199.5,513.9 L197.5,513.8 L195.5,514.4 L193.5,514.8 L191.4,514.4 L189.4,514.8 L187.1,513.9 L184.6,514.8 L182.2,514.8 L179.9,514.1 L177.6,513.6 L175.6,512.9 L173.7,511.8 L171.5,511.7 L169.8,510.0 L167.8,509.3 L165.7,508.9 L164.8,507.0 L163.4,505.3 L163.6,502.9 L161.7,501.4 L161.0,499.4 L160.9,496.9 L159.4,494.8 L158.8,492.4 L158.6,489.9 L156.6,489.2 L154.5,489.6 L152.6,488.2 L150.5,488.6 L148.4,488.8 L146.4,488.4 L144.4,487.6 L143.1,485.9 L142.3,483.9 L141.5,481.9 L139.7,480.5 L137.9,479.5 L136.7,477.8 L135.1,476.6 L134.6,474.3 L132.6,473.4 L130.3,474.2 L128.0,474.6 L125.6,474.8 L123.2,474.5 L120.8,474.6 L118.9,473.6 L117.0,473.2 L114.9,473.0 L113.0,472.2 L111.0,471.9 L108.9,472.2 L106.8,472.2 L104.7,472.1 L102.9,470.6 L100.7,471.0 L101.7,469.0 L101.1,466.6 L102.7,464.8 L103.0,462.7 L103.2,460.3 L103.6,457.9 L104.2,455.6 L105.6,454.0 L107.0,452.4 L108.4,450.9 L110.3,449.8 L112.0,448.5 L113.7,447.3 L115.7,445.9 L116.1,443.2 L118.6,442.1 L119.0,439.5 L120.8,437.9 L122.4,436.5 L124.6,435.9 L126.4,434.7 L127.9,433.1 L129.9,432.3 L131.7,431.1 L133.9,431.0 L135.9,430.2 L138.2,430.4 L139.8,428.6 L142.0,428.4 L143.8,427.3 L146.1,427.1 L147.4,424.9 L149.5,424.5 L151.5,423.7 L153.1,422.0 L154.3,420.0 L155.1,417.8 L155.7,415.7 L156.9,414.0 L158.1,412.4 L160.4,411.5 L161.0,409.5 L162.3,408.0 L164.4,407.3 L166.1,406.3 L167.2,404.3 L168.7,403.0 L170.9,402.6 L172.2,400.9 L173.4,399.2 L175.2,398.3 L177.2,397.8 L178.8,396.5 L180.6,395.6 L182.3,394.4 L184.6,394.7 L186.5,394.2 L188.2,393.0 L190.2,392.6 L191.8,391.2 L193.1,389.3 L195.1,388.2 L197.1,387.2 L199.3,386.5 L201.1,385.2 L202.3,383.1 L204.0,381.6 L206.0,380.6 L208.2,380.0 L210.4,379.7 L212.7,379.9 L214.7,378.3 L217.1,378.8 L219.3,378.3 L221.5,378.0 L223.6,377.0 L224.4,374.9 L224.6,372.7 L224.5,370.4 L224.9,368.3 L225.4,366.1 L226.0,364.0 L224.1,364.8 L223.1,366.9 L221.4,367.9 L219.2,368.4 L217.8,369.9 L216.0,371.1 L214.1,372.1 L212.2,373.0 L209.9,373.0 L208.1,374.2 L206.0,374.7 L203.7,374.6 L201.8,375.5 L199.7,376.0 L198.0,377.7 L196.1,378.7 L194.0,379.3 L191.8,379.4 L189.7,380.0 L187.6,380.3 L185.6,381.2 L183.6,382.2 L181.5,382.5 L179.3,382.7 L177.2,383.2 L175.2,384.1 L173.0,384.6 L170.9,385.3 L169.0,386.4 L167.3,388.0 L164.8,387.8 L163.2,389.5 L161.0,390.0 L159.0,391.1 L157.2,392.6 L155.1,393.6 L155.2,391.2 L154.0,388.9 L153.8,386.5 L153.9,384.1 L154.4,381.9 L155.2,379.8 L157.2,378.2 L157.5,375.9 L159.1,374.5 L160.3,372.8 L161.8,371.4 L163.4,370.0 L164.7,367.8 L164.6,365.3 L164.7,362.8 L165.7,360.5 L165.9,358.1 L165.4,355.7 L165.7,353.3 L164.6,351.0 L162.5,349.4 L161.4,347.1 L159.8,345.1 L158.7,343.3 L157.2,341.8 L155.8,340.2 L153.9,339.2 L152.1,337.8 L151.3,335.8 L149.9,334.1 L149.2,332.0 L148.3,329.8 L149.1,327.2 L148.0,325.0 L149.9,322.7 L151.5,320.2 L153.0,318.1 L152.9,315.4 L153.9,313.1 L155.7,312.1 L156.7,310.2 L157.9,308.6 L159.9,307.7 L161.0,306.0 L162.9,305.1 L163.4,302.7 L165.4,301.8 L166.8,300.5 L168.1,298.9 L169.9,297.7 L172.0,297.1 L173.8,296.0 L175.9,295.3 L177.9,294.6 L180.0,294.2 L182.0,293.0 L183.9,291.7 L185.4,289.7 L187.1,288.1 Z" fill="none" stroke="#111" stroke-width="2.3" stroke-linejoin="round"/>
  <path d="M697.0,139.0 L700.0,137.5 L701.5,140.0 L700.0,143.0 L697.5,142.5 Z M689.0,145.0 L692.0,143.5 L693.5,146.5 L691.0,149.0 L688.5,148.0 Z M684.0,158.0 L686.5,156.5 L688.5,161.0 L686.0,163.0 L683.5,162.0 Z M669.5,180.0 L672.5,179.0 L673.5,182.5 L670.5,183.0 Z M680.5,179.5 L683.5,180.0 L685.5,186.0 L684.0,189.0 L681.5,185.5 Z M628.0,396.0 L630.0,395.5 L630.5,398.0 L628.5,398.5 Z M630.5,381.0 L632.0,380.5 L632.5,383.0 L630.5,383.5 Z M600.5,461.5 L601.5,461.5 L601.5,462.5 L600.5,462.5 Z M601.0,470.5 L602.0,470.5 L602.0,471.5 L601.0,471.5 Z" fill="#111" stroke="#111" stroke-width="1"/>
  <g font-family="Liberation Serif, serif" font-size="14" font-weight="bold" fill="#3a1e0e"><text x="257.6" y="261.6" textLength="43.8" lengthAdjust="spacingAndGlyphs">Dezhou</text>
<text x="372.6" y="220.0" textLength="47.4" lengthAdjust="spacingAndGlyphs">Binzhou</text>
<text x="446.0" y="220.0" textLength="55.6" lengthAdjust="spacingAndGlyphs">Dongying</text>
<text x="682.4" y="250.7" textLength="36.2" lengthAdjust="spacingAndGlyphs">Yantai</text>
<text x="796.0" y="260.2" textLength="39.0" lengthAdjust="spacingAndGlyphs">Weihai</text>
<text x="176.4" y="334.9" textLength="59.9" lengthAdjust="spacingAndGlyphs">Liaocheng</text>
<text x="307.3" y="374.7" textLength="33.0" lengthAdjust="spacingAndGlyphs">Tai'an</text>
<text x="264.0" y="440.7" textLength="41.4" lengthAdjust="spacingAndGlyphs">Jinning</text>
<text x="173.3" y="462.7" textLength="28.7" lengthAdjust="spacingAndGlyphs">Heze</text>
<text x="319.0" y="476.9" textLength="63.7" lengthAdjust="spacingAndGlyphs">Zaozhuang</text>
<text x="422.2" y="462.0" textLength="30.3" lengthAdjust="spacingAndGlyphs">Linyi</text>
<text x="507.0" y="418.5" textLength="39.7" lengthAdjust="spacingAndGlyphs">Rizhao</text>
<text x="611.0" y="313.1" textLength="48.5" lengthAdjust="spacingAndGlyphs">Qingdao</text>
<text x="502.6" y="326.2" textLength="48.8" lengthAdjust="spacingAndGlyphs">Weifang</text>
<text x="319.6" y="308.6" textLength="29.6" lengthAdjust="spacingAndGlyphs">Jinan</text>
<text x="398.9" y="312.8" textLength="28.4" lengthAdjust="spacingAndGlyphs">Zibo</text></g>
  <text transform="scale(0.9,1)" x="426.39 439.83 453.28 466.72 480.17 493.61 507.06 520.50 533.94 547.39 560.83 574.28 587.72 601.17 614.61 628.06 641.50" y="114.3" text-anchor="middle" font-family="Liberation Serif, serif" font-size="25" font-weight="normal" fill="#2a2a2a">Shandong Province</text>
  <text x="849.0" y="95.3" font-family="Liberation Sans, sans-serif" font-size="14.5" font-weight="bold" fill="#111" textLength="10.2" lengthAdjust="spacingAndGlyphs">N</text>
  <path d="M853.6,99.4 L842.7,135.5 L853.3,122.1 Z" fill="#000"/>
  <path d="M853.6,99.4 L864.4,135.5 L853.3,122.1 Z" fill="#fff" stroke="#000" stroke-width="1.2" stroke-linejoin="miter"/>
  <g stroke="#404040" stroke-width="1.6" fill="none" stroke-linecap="square"><path d="M66.7,612.3 H172.8" />
<path d="M66.7,612.3 V606.8"/>
<path d="M80.2,612.3 V608.9"/>
<path d="M93.4,612.3 V608.2"/>
<path d="M106.5,612.3 V608.9"/>
<path d="M119.7,612.3 V606.8"/>
<path d="M132.9,612.3 V608.9"/>
<path d="M146,612.3 V608.9"/>
<path d="M159.6,612.3 V608.9"/>
<path d="M172.8,612.3 V606.8"/></g>
  <g font-family="DejaVu Sans Condensed, DejaVu Sans, sans-serif" font-size="12" font-weight="normal" fill="#333" stroke="#333" stroke-width="0.3">
    <text x="63.6" y="602.3">0</text>
    <text x="87.0" y="602.3" textLength="12.7" lengthAdjust="spacingAndGlyphs">30</text>
    <text x="113.0" y="602.3" textLength="13.3" lengthAdjust="spacingAndGlyphs">60</text>
    <text x="163.9" y="602.3" textLength="39.1" lengthAdjust="spacingAndGlyphs">120 KM</text>
  </g>
</g>

</defs>
<rect width="2000" height="676" fill="#fff"/>
<!-- Panel A -->
<use href="#common"/>
<g clip-path="url(#clipA)">
  <rect x="90" y="140" width="800" height="400" fill="#f48400"/>
  <g filter="url(#blA)"><g transform="matrix(0.989413 0 0 0.989413 -1015.5041 0.1059)"><use href="#fg0" fill="#f5c600"/>
<use href="#fg1" fill="#f5a000"/>
<use href="#fg2" fill="#f48400"/>
<use href="#fg3" fill="#f5a000"/>
<use href="#fg4" fill="#f48400"/>
<use href="#fg5" fill="#f5c600"/>
<use href="#fg6" fill="#f24800"/></g><ellipse cx="312" cy="305" rx="16" ry="7" fill="#e60a00" opacity="0.9" transform="rotate(-5 312 305)"/>
<ellipse cx="395" cy="283" rx="14" ry="8" fill="#e60a00" opacity="0.9" transform="rotate(-20 395 283)"/>
<ellipse cx="420" cy="270" rx="12" ry="9" fill="#e60a00" opacity="0.8" transform="rotate(0 420 270)"/>
<ellipse cx="432" cy="245" rx="9" ry="10" fill="#e60a00" opacity="0.7" transform="rotate(0 432 245)"/>
<ellipse cx="470" cy="290" rx="16" ry="8" fill="#e60a00" opacity="0.55" transform="rotate(-10 470 290)"/>
<ellipse cx="246.5" cy="228" rx="4" ry="5" fill="#e60a00" opacity="0.8" transform="rotate(0 246.5 228)"/>
<ellipse cx="556" cy="443" rx="6" ry="12" fill="#e60a00" opacity="0.8" transform="rotate(30 556 443)"/>
<ellipse cx="440" cy="470" rx="7" ry="8" fill="#e60a00" opacity="0.7" transform="rotate(0 440 470)"/>
<ellipse cx="630" cy="358" rx="9" ry="10" fill="#e60a00" opacity="0.6" transform="rotate(0 630 358)"/>
<ellipse cx="748" cy="262" rx="42" ry="24" fill="#f5de00" opacity="1"/>
<ellipse cx="700" cy="280" rx="25" ry="20" fill="#f5d400" opacity="0.6"/>
<polygon points="800,232 825,224 876,236 866,262 860,284 830,292 808,284 790,288 760,300 748,296 738,282 730,268 745,262 783,260 790,245" fill="#f3ec00"/>
<ellipse cx="640" cy="230" rx="35" ry="22" fill="#f5b800" opacity="0.7"/>
<ellipse cx="733" cy="222" rx="18" ry="6" fill="#f29400" opacity="0.9" transform="rotate(15 733 222)"/></g>
</g>
<use href="#mapfg"/>
<text x="98.8" y="111" font-family="Liberation Sans, sans-serif" font-size="21" fill="#111">(</text>
<text x="110.0" y="114.1" font-family="Liberation Sans, sans-serif" font-size="20" font-weight="bold" fill="#111">a</text>
<text x="124.3" y="111" font-family="Liberation Sans, sans-serif" font-size="21" fill="#111">)</text>
<rect x="681" y="529" width="224" height="75" fill="#fff"/>
<g font-family="DejaVu Sans Condensed, DejaVu Sans, Noto Sans CJK SC, sans-serif" font-size="14.5" fill="#1e1e1e" stroke="#1e1e1e" stroke-width="0.4">
  <text x="685.6" y="546" textLength="178.2" lengthAdjust="spacingAndGlyphs">tropospheric NO2 vertical</text>
  <text x="685.6" y="565.8" textLength="215.4" lengthAdjust="spacingAndGlyphs">column density （10-5mol/m2）</text>
</g>
<rect x="685.6" y="574.8" width="19.2" height="28.2" fill="url(#lgA)"/>
<g font-family="DejaVu Sans Condensed, DejaVu Sans, sans-serif" font-size="12" fill="#222" stroke="#222" stroke-width="0.35">
  <text x="709" y="586.8" textLength="31.2" lengthAdjust="spacingAndGlyphs">23.07</text>
  <text x="709" y="600" textLength="18.5" lengthAdjust="spacingAndGlyphs">6.2</text>
</g>
<!-- Panel B -->
<use href="#common" transform="matrix(1.0107 0 0 1.0107 1026.37 -0.107)"/>
<g clip-path="url(#clipB)">
  <rect x="1100" y="140" width="820" height="410" fill="#f25000"/>
  <use href="#fg0" fill="#f5f500"/>
<use href="#fg1" fill="#f5a300"/>
<use href="#fg2" fill="#f25000"/>
<use href="#fg3" fill="#f5a300"/>
<use href="#fg4" fill="#f25000"/>
<use href="#fg5" fill="#f5f500"/>
<use href="#fg6" fill="#ee0000"/>
</g>
<use href="#mapfg" transform="matrix(1.0107 0 0 1.0107 1026.37 -0.107)"/>
<g transform="matrix(1.0107 0 0 1.0107 1026.37 -0.107)">
<text x="98.8" y="111" font-family="Liberation Sans, sans-serif" font-size="21" fill="#111">(</text>
<text x="110.0" y="114.1" font-family="Liberation Sans, sans-serif" font-size="20" font-weight="bold" fill="#111">b</text>
<text x="124.3" y="111" font-family="Liberation Sans, sans-serif" font-size="21" fill="#111">)</text>
</g>
<rect x="1694" y="484" width="256" height="130" fill="#fff"/>
<g font-family="DejaVu Sans Condensed, DejaVu Sans, Noto Sans CJK SC, sans-serif" font-size="14.5" fill="#1e1e1e" stroke="#1e1e1e" stroke-width="0.4">
  <text x="1704.9" y="499.8" textLength="237.3" lengthAdjust="spacingAndGlyphs">tropospheric NO2 vertical column</text>
  <text x="1704.9" y="519.5" textLength="160.1" lengthAdjust="spacingAndGlyphs">density （10-5mol/m2）</text>
</g>
<rect x="1704.5" y="532.6" width="19.7" height="8.7" fill="#f5f500"/>
<rect x="1704.5" y="553.9" width="19.7" height="8.9" fill="#f5a300"/>
<rect x="1704.5" y="575.4" width="19.7" height="8.9" fill="#f25000"/>
<rect x="1704.5" y="597.2" width="19.7" height="8.9" fill="#ee0000"/>
<g font-family="DejaVu Sans Condensed, DejaVu Sans, sans-serif" font-size="14" fill="#1e1e1e" stroke="#1e1e1e" stroke-width="0.4">
  <text x="1728.3" y="541.3">5-10</text><text x="1772.8" y="541.3" textLength="122.2" lengthAdjust="spacingAndGlyphs">(Low concentration)</text>
  <text x="1728.3" y="563">10-12</text><text x="1771.8" y="563" textLength="134.6" lengthAdjust="spacingAndGlyphs">(Lower concentration)</text>
  <text x="1728.3" y="584.5">12-15</text><text x="1771.8" y="584.5" textLength="145.9" lengthAdjust="spacingAndGlyphs">(medium concentration)</text>
  <text x="1728.3" y="606">15-25</text><text x="1771.8" y="606" textLength="125.2" lengthAdjust="spacingAndGlyphs">(High concentration)</text>
</g>
</svg>
</body></html>
